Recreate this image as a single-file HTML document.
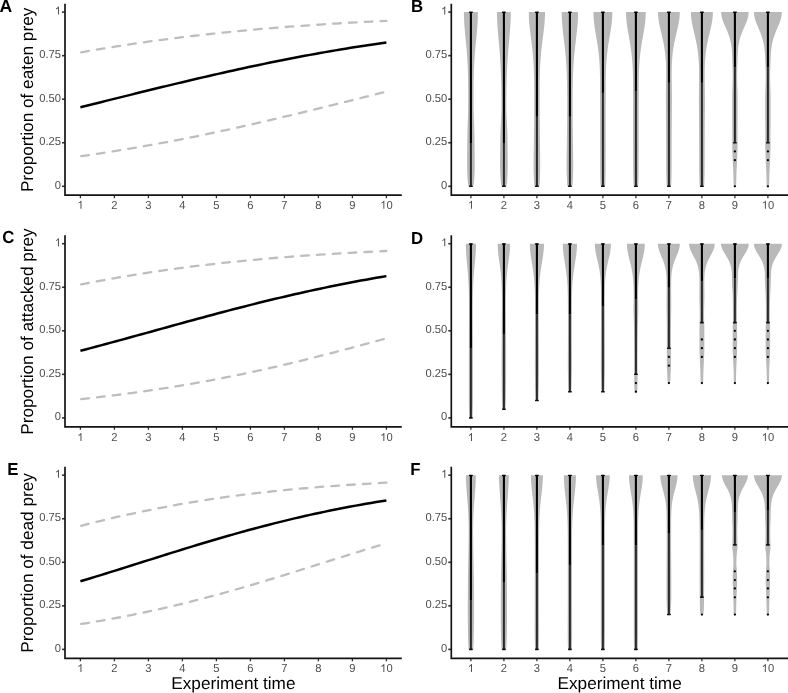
<!DOCTYPE html>
<html><head><meta charset="utf-8"><style>
html,body{margin:0;padding:0;background:#fff;overflow:hidden;width:788px;height:693px;}
svg{filter:grayscale(1);}
text{text-rendering:geometricPrecision;}
svg{display:block;}
.tk{font-family:"Liberation Sans",sans-serif;font-size:11.2px;fill:#4d4d4d;}
.ttl{font-family:"Liberation Sans",sans-serif;font-size:17.2px;fill:#000;}
.lt{font-family:"Liberation Sans",sans-serif;font-size:16.8px;font-weight:bold;fill:#000;}
</style></head><body>
<svg width="788" height="693" viewBox="0 0 788 693">
<rect width="788" height="693" fill="#fff"/>
<line x1="62.00" y1="186.30" x2="65.00" y2="186.30" stroke="#333333" stroke-width="1.6"/>
<text transform="translate(54.77,188.80) scale(1,1.040)" class="tk">0</text>
<line x1="62.00" y1="142.75" x2="65.00" y2="142.75" stroke="#333333" stroke-width="1.6"/>
<text transform="translate(39.20,145.25) scale(1,1.040)" class="tk">0.25</text>
<line x1="62.00" y1="99.20" x2="65.00" y2="99.20" stroke="#333333" stroke-width="1.6"/>
<text transform="translate(39.20,101.70) scale(1,1.040)" class="tk">0.50</text>
<line x1="62.00" y1="55.65" x2="65.00" y2="55.65" stroke="#333333" stroke-width="1.6"/>
<text transform="translate(39.20,58.15) scale(1,1.040)" class="tk">0.75</text>
<line x1="62.00" y1="12.10" x2="65.00" y2="12.10" stroke="#333333" stroke-width="1.6"/>
<text transform="translate(54.77,14.60) scale(1,1.040)" class="tk"> </text><path transform="translate(54.77,14.60) scale(0.00547,-0.00547)" d="M763,0L583,0L583,1147Q518,1085 412,1023Q306,961 221,930L221,1104Q374,1176 488,1278Q602,1380 649,1476L763,1476Z" fill="#4d4d4d"/>
<line x1="80.40" y1="195.21" x2="80.40" y2="198.21" stroke="#333333" stroke-width="1.3"/>
<text transform="translate(77.29,208.71) scale(1,1.040)" class="tk"> </text><path transform="translate(77.29,208.71) scale(0.00547,-0.00547)" d="M763,0L583,0L583,1147Q518,1085 412,1023Q306,961 221,930L221,1104Q374,1176 488,1278Q602,1380 649,1476L763,1476Z" fill="#4d4d4d"/>
<line x1="114.40" y1="195.21" x2="114.40" y2="198.21" stroke="#333333" stroke-width="1.3"/>
<text transform="translate(111.29,208.71) scale(1,1.040)" class="tk">2</text>
<line x1="148.40" y1="195.21" x2="148.40" y2="198.21" stroke="#333333" stroke-width="1.3"/>
<text transform="translate(145.29,208.71) scale(1,1.040)" class="tk">3</text>
<line x1="182.40" y1="195.21" x2="182.40" y2="198.21" stroke="#333333" stroke-width="1.3"/>
<text transform="translate(179.29,208.71) scale(1,1.040)" class="tk">4</text>
<line x1="216.40" y1="195.21" x2="216.40" y2="198.21" stroke="#333333" stroke-width="1.3"/>
<text transform="translate(213.29,208.71) scale(1,1.040)" class="tk">5</text>
<line x1="250.40" y1="195.21" x2="250.40" y2="198.21" stroke="#333333" stroke-width="1.3"/>
<text transform="translate(247.29,208.71) scale(1,1.040)" class="tk">6</text>
<line x1="284.40" y1="195.21" x2="284.40" y2="198.21" stroke="#333333" stroke-width="1.3"/>
<text transform="translate(281.29,208.71) scale(1,1.040)" class="tk">7</text>
<line x1="318.40" y1="195.21" x2="318.40" y2="198.21" stroke="#333333" stroke-width="1.3"/>
<text transform="translate(315.29,208.71) scale(1,1.040)" class="tk">8</text>
<line x1="352.40" y1="195.21" x2="352.40" y2="198.21" stroke="#333333" stroke-width="1.3"/>
<text transform="translate(349.29,208.71) scale(1,1.040)" class="tk">9</text>
<line x1="386.40" y1="195.21" x2="386.40" y2="198.21" stroke="#333333" stroke-width="1.3"/>
<text transform="translate(380.17,208.71) scale(1,1.040)" class="tk"> 0</text><path transform="translate(380.17,208.71) scale(0.00547,-0.00547)" d="M763,0L583,0L583,1147Q518,1085 412,1023Q306,961 221,930L221,1104Q374,1176 488,1278Q602,1380 649,1476L763,1476Z" fill="#4d4d4d"/>
<path d="M65.00,3.69 L65.00,195.21 L401.80,195.21" fill="none" stroke="#141414" stroke-width="1.7" stroke-linejoin="miter" stroke-linecap="butt"/>
<path d="M80.40 52.41 85.50 51.51 90.60 50.63 95.70 49.77 100.80 48.92 105.90 48.08 111.00 47.26 116.10 46.45 121.20 45.66 126.30 44.88 131.40 44.11 136.50 43.36 141.60 42.63 146.70 41.90 151.80 41.19 156.90 40.49 162.00 39.81 167.10 39.14 172.20 38.48 177.30 37.84 182.40 37.21 187.50 36.59 192.60 35.99 197.70 35.40 202.80 34.82 207.90 34.25 213.00 33.69 218.10 33.15 223.20 32.62 228.30 32.10 233.40 31.59 238.50 31.09 243.60 30.61 248.70 30.13 253.80 29.67 258.90 29.22 264.00 28.77 269.10 28.34 274.20 27.92 279.30 27.50 284.40 27.10 289.50 26.71 294.60 26.32 299.70 25.95 304.80 25.58 309.90 25.23 315.00 24.88 320.10 24.54 325.20 24.21 330.30 23.89 335.40 23.57 340.50 23.26 345.60 22.96 350.70 22.67 355.80 22.39 360.90 22.11 366.00 21.84 371.10 21.58 376.20 21.32 381.30 21.07 386.40 20.82" fill="none" stroke="#bebebe" stroke-width="2.3" stroke-dasharray="7.7 8.15" stroke-dashoffset="15.0" stroke-linecap="round"/>
<path d="M80.40 156.29 85.50 155.56 90.60 154.82 95.70 154.06 100.80 153.29 105.90 152.51 111.00 151.71 116.10 150.90 121.20 150.07 126.30 149.23 131.40 148.38 136.50 147.51 141.60 146.62 146.70 145.73 151.80 144.82 156.90 143.89 162.00 142.95 167.10 142.00 172.20 141.04 177.30 140.06 182.40 139.06 187.50 138.06 192.60 137.04 197.70 136.01 202.80 134.96 207.90 133.90 213.00 132.83 218.10 131.75 223.20 130.66 228.30 129.55 233.40 128.44 238.50 127.31 243.60 126.17 248.70 125.02 253.80 123.86 258.90 122.70 264.00 121.52 269.10 120.33 274.20 119.14 279.30 117.94 284.40 116.73 289.50 115.51 294.60 114.29 299.70 113.06 304.80 111.82 309.90 110.58 315.00 109.34 320.10 108.09 325.20 106.83 330.30 105.58 335.40 104.32 340.50 103.06 345.60 101.79 350.70 100.53 355.80 99.27 360.90 98.00 366.00 96.74 371.10 95.47 376.20 94.21 381.30 92.95 386.40 91.70" fill="none" stroke="#bebebe" stroke-width="2.3" stroke-dasharray="7.7 8.15" stroke-dashoffset="15.0" stroke-linecap="round"/>
<path d="M80.40 107.21 85.50 105.95 90.60 104.70 95.70 103.44 100.80 102.17 105.90 100.91 111.00 99.64 116.10 98.38 121.20 97.12 126.30 95.85 131.40 94.59 136.50 93.33 141.60 92.07 146.70 90.82 151.80 89.57 156.90 88.32 162.00 87.08 167.10 85.84 172.20 84.61 177.30 83.38 182.40 82.16 187.50 80.95 192.60 79.75 197.70 78.55 202.80 77.36 207.90 76.18 213.00 75.01 218.10 73.85 223.20 72.69 228.30 71.55 233.40 70.42 238.50 69.30 243.60 68.19 248.70 67.09 253.80 66.00 258.90 64.93 264.00 63.87 269.10 62.82 274.20 61.78 279.30 60.75 284.40 59.74 289.50 58.74 294.60 57.76 299.70 56.79 304.80 55.83 309.90 54.89 315.00 53.95 320.10 53.04 325.20 52.14 330.30 51.25 335.40 50.37 340.50 49.51 345.60 48.67 350.70 47.84 355.80 47.02 360.90 46.21 366.00 45.43 371.10 44.65 376.20 43.89 381.30 43.14 386.40 42.41" fill="none" stroke="#000" stroke-width="2.5" stroke-linecap="butt"/>
<text class="ttl" transform="translate(33.2,99.90) rotate(-90)" text-anchor="middle">Proportion of eaten prey</text>
<line x1="62.00" y1="417.90" x2="65.00" y2="417.90" stroke="#333333" stroke-width="1.6"/>
<text transform="translate(54.77,420.40) scale(1,1.040)" class="tk">0</text>
<line x1="62.00" y1="374.35" x2="65.00" y2="374.35" stroke="#333333" stroke-width="1.6"/>
<text transform="translate(39.20,376.85) scale(1,1.040)" class="tk">0.25</text>
<line x1="62.00" y1="330.80" x2="65.00" y2="330.80" stroke="#333333" stroke-width="1.6"/>
<text transform="translate(39.20,333.30) scale(1,1.040)" class="tk">0.50</text>
<line x1="62.00" y1="287.25" x2="65.00" y2="287.25" stroke="#333333" stroke-width="1.6"/>
<text transform="translate(39.20,289.75) scale(1,1.040)" class="tk">0.75</text>
<line x1="62.00" y1="243.70" x2="65.00" y2="243.70" stroke="#333333" stroke-width="1.6"/>
<text transform="translate(54.77,246.20) scale(1,1.040)" class="tk"> </text><path transform="translate(54.77,246.20) scale(0.00547,-0.00547)" d="M763,0L583,0L583,1147Q518,1085 412,1023Q306,961 221,930L221,1104Q374,1176 488,1278Q602,1380 649,1476L763,1476Z" fill="#4d4d4d"/>
<line x1="80.40" y1="426.81" x2="80.40" y2="429.81" stroke="#333333" stroke-width="1.3"/>
<text transform="translate(77.29,441.11) scale(1,1.040)" class="tk"> </text><path transform="translate(77.29,441.11) scale(0.00547,-0.00547)" d="M763,0L583,0L583,1147Q518,1085 412,1023Q306,961 221,930L221,1104Q374,1176 488,1278Q602,1380 649,1476L763,1476Z" fill="#4d4d4d"/>
<line x1="114.40" y1="426.81" x2="114.40" y2="429.81" stroke="#333333" stroke-width="1.3"/>
<text transform="translate(111.29,441.11) scale(1,1.040)" class="tk">2</text>
<line x1="148.40" y1="426.81" x2="148.40" y2="429.81" stroke="#333333" stroke-width="1.3"/>
<text transform="translate(145.29,441.11) scale(1,1.040)" class="tk">3</text>
<line x1="182.40" y1="426.81" x2="182.40" y2="429.81" stroke="#333333" stroke-width="1.3"/>
<text transform="translate(179.29,441.11) scale(1,1.040)" class="tk">4</text>
<line x1="216.40" y1="426.81" x2="216.40" y2="429.81" stroke="#333333" stroke-width="1.3"/>
<text transform="translate(213.29,441.11) scale(1,1.040)" class="tk">5</text>
<line x1="250.40" y1="426.81" x2="250.40" y2="429.81" stroke="#333333" stroke-width="1.3"/>
<text transform="translate(247.29,441.11) scale(1,1.040)" class="tk">6</text>
<line x1="284.40" y1="426.81" x2="284.40" y2="429.81" stroke="#333333" stroke-width="1.3"/>
<text transform="translate(281.29,441.11) scale(1,1.040)" class="tk">7</text>
<line x1="318.40" y1="426.81" x2="318.40" y2="429.81" stroke="#333333" stroke-width="1.3"/>
<text transform="translate(315.29,441.11) scale(1,1.040)" class="tk">8</text>
<line x1="352.40" y1="426.81" x2="352.40" y2="429.81" stroke="#333333" stroke-width="1.3"/>
<text transform="translate(349.29,441.11) scale(1,1.040)" class="tk">9</text>
<line x1="386.40" y1="426.81" x2="386.40" y2="429.81" stroke="#333333" stroke-width="1.3"/>
<text transform="translate(380.17,441.11) scale(1,1.040)" class="tk"> 0</text><path transform="translate(380.17,441.11) scale(0.00547,-0.00547)" d="M763,0L583,0L583,1147Q518,1085 412,1023Q306,961 221,930L221,1104Q374,1176 488,1278Q602,1380 649,1476L763,1476Z" fill="#4d4d4d"/>
<path d="M65.00,235.29 L65.00,426.81 L401.80,426.81" fill="none" stroke="#141414" stroke-width="1.7" stroke-linejoin="miter" stroke-linecap="butt"/>
<path d="M80.40 284.58 85.50 283.58 90.60 282.59 95.70 281.62 100.80 280.67 105.90 279.73 111.00 278.82 116.10 277.92 121.20 277.03 126.30 276.17 131.40 275.32 136.50 274.49 141.60 273.68 146.70 272.88 151.80 272.11 156.90 271.34 162.00 270.60 167.10 269.87 172.20 269.16 177.30 268.46 182.40 267.78 187.50 267.12 192.60 266.47 197.70 265.83 202.80 265.22 207.90 264.61 213.00 264.02 218.10 263.45 223.20 262.89 228.30 262.34 233.40 261.81 238.50 261.29 243.60 260.78 248.70 260.29 253.80 259.81 258.90 259.34 264.00 258.89 269.10 258.45 274.20 258.01 279.30 257.59 284.40 257.19 289.50 256.79 294.60 256.40 299.70 256.02 304.80 255.66 309.90 255.30 315.00 254.96 320.10 254.62 325.20 254.29 330.30 253.98 335.40 253.67 340.50 253.37 345.60 253.08 350.70 252.79 355.80 252.52 360.90 252.25 366.00 251.99 371.10 251.74 376.20 251.49 381.30 251.26 386.40 251.02" fill="none" stroke="#bebebe" stroke-width="2.3" stroke-dasharray="7.7 8.15" stroke-dashoffset="15.0" stroke-linecap="round"/>
<path d="M80.40 399.20 85.50 398.65 90.60 398.09 95.70 397.51 100.80 396.92 105.90 396.32 111.00 395.70 116.10 395.06 121.20 394.41 126.30 393.74 131.40 393.06 136.50 392.36 141.60 391.65 146.70 390.92 151.80 390.17 156.90 389.41 162.00 388.63 167.10 387.83 172.20 387.02 177.30 386.18 182.40 385.33 187.50 384.47 192.60 383.58 197.70 382.68 202.80 381.76 207.90 380.83 213.00 379.87 218.10 378.90 223.20 377.91 228.30 376.90 233.40 375.88 238.50 374.84 243.60 373.78 248.70 372.70 253.80 371.61 258.90 370.50 264.00 369.37 269.10 368.23 274.20 367.07 279.30 365.90 284.40 364.71 289.50 363.51 294.60 362.29 299.70 361.05 304.80 359.80 309.90 358.54 315.00 357.27 320.10 355.98 325.20 354.68 330.30 353.37 335.40 352.05 340.50 350.72 345.60 349.38 350.70 348.02 355.80 346.66 360.90 345.30 366.00 343.92 371.10 342.54 376.20 341.15 381.30 339.76 386.40 338.36" fill="none" stroke="#bebebe" stroke-width="2.3" stroke-dasharray="7.7 8.15" stroke-dashoffset="15.0" stroke-linecap="round"/>
<path d="M80.40 350.82 85.50 349.48 90.60 348.13 95.70 346.77 100.80 345.40 105.90 344.02 111.00 342.64 116.10 341.25 121.20 339.86 126.30 338.46 131.40 337.06 136.50 335.66 141.60 334.25 146.70 332.84 151.80 331.43 156.90 330.02 162.00 328.61 167.10 327.20 172.20 325.79 177.30 324.38 182.40 322.98 187.50 321.58 192.60 320.19 197.70 318.80 202.80 317.42 207.90 316.05 213.00 314.68 218.10 313.32 223.20 311.97 228.30 310.63 233.40 309.30 238.50 307.98 243.60 306.68 248.70 305.38 253.80 304.09 258.90 302.82 264.00 301.56 269.10 300.32 274.20 299.09 279.30 297.87 284.40 296.67 289.50 295.48 294.60 294.31 299.70 293.16 304.80 292.02 309.90 290.89 315.00 289.79 320.10 288.70 325.20 287.62 330.30 286.57 335.40 285.53 340.50 284.51 345.60 283.50 350.70 282.52 355.80 281.55 360.90 280.60 366.00 279.67 371.10 278.75 376.20 277.85 381.30 276.97 386.40 276.11" fill="none" stroke="#000" stroke-width="2.5" stroke-linecap="butt"/>
<text class="ttl" transform="translate(33.2,331.50) rotate(-90)" text-anchor="middle">Proportion of attacked prey</text>
<line x1="62.00" y1="649.40" x2="65.00" y2="649.40" stroke="#333333" stroke-width="1.6"/>
<text transform="translate(54.77,651.90) scale(1,1.040)" class="tk">0</text>
<line x1="62.00" y1="605.85" x2="65.00" y2="605.85" stroke="#333333" stroke-width="1.6"/>
<text transform="translate(39.20,608.35) scale(1,1.040)" class="tk">0.25</text>
<line x1="62.00" y1="562.30" x2="65.00" y2="562.30" stroke="#333333" stroke-width="1.6"/>
<text transform="translate(39.20,564.80) scale(1,1.040)" class="tk">0.50</text>
<line x1="62.00" y1="518.75" x2="65.00" y2="518.75" stroke="#333333" stroke-width="1.6"/>
<text transform="translate(39.20,521.25) scale(1,1.040)" class="tk">0.75</text>
<line x1="62.00" y1="475.20" x2="65.00" y2="475.20" stroke="#333333" stroke-width="1.6"/>
<text transform="translate(54.77,477.70) scale(1,1.040)" class="tk"> </text><path transform="translate(54.77,477.70) scale(0.00547,-0.00547)" d="M763,0L583,0L583,1147Q518,1085 412,1023Q306,961 221,930L221,1104Q374,1176 488,1278Q602,1380 649,1476L763,1476Z" fill="#4d4d4d"/>
<line x1="80.40" y1="658.31" x2="80.40" y2="661.31" stroke="#333333" stroke-width="1.3"/>
<text transform="translate(77.29,672.11) scale(1,1.040)" class="tk"> </text><path transform="translate(77.29,672.11) scale(0.00547,-0.00547)" d="M763,0L583,0L583,1147Q518,1085 412,1023Q306,961 221,930L221,1104Q374,1176 488,1278Q602,1380 649,1476L763,1476Z" fill="#4d4d4d"/>
<line x1="114.40" y1="658.31" x2="114.40" y2="661.31" stroke="#333333" stroke-width="1.3"/>
<text transform="translate(111.29,672.11) scale(1,1.040)" class="tk">2</text>
<line x1="148.40" y1="658.31" x2="148.40" y2="661.31" stroke="#333333" stroke-width="1.3"/>
<text transform="translate(145.29,672.11) scale(1,1.040)" class="tk">3</text>
<line x1="182.40" y1="658.31" x2="182.40" y2="661.31" stroke="#333333" stroke-width="1.3"/>
<text transform="translate(179.29,672.11) scale(1,1.040)" class="tk">4</text>
<line x1="216.40" y1="658.31" x2="216.40" y2="661.31" stroke="#333333" stroke-width="1.3"/>
<text transform="translate(213.29,672.11) scale(1,1.040)" class="tk">5</text>
<line x1="250.40" y1="658.31" x2="250.40" y2="661.31" stroke="#333333" stroke-width="1.3"/>
<text transform="translate(247.29,672.11) scale(1,1.040)" class="tk">6</text>
<line x1="284.40" y1="658.31" x2="284.40" y2="661.31" stroke="#333333" stroke-width="1.3"/>
<text transform="translate(281.29,672.11) scale(1,1.040)" class="tk">7</text>
<line x1="318.40" y1="658.31" x2="318.40" y2="661.31" stroke="#333333" stroke-width="1.3"/>
<text transform="translate(315.29,672.11) scale(1,1.040)" class="tk">8</text>
<line x1="352.40" y1="658.31" x2="352.40" y2="661.31" stroke="#333333" stroke-width="1.3"/>
<text transform="translate(349.29,672.11) scale(1,1.040)" class="tk">9</text>
<line x1="386.40" y1="658.31" x2="386.40" y2="661.31" stroke="#333333" stroke-width="1.3"/>
<text transform="translate(380.17,672.11) scale(1,1.040)" class="tk"> 0</text><path transform="translate(380.17,672.11) scale(0.00547,-0.00547)" d="M763,0L583,0L583,1147Q518,1085 412,1023Q306,961 221,930L221,1104Q374,1176 488,1278Q602,1380 649,1476L763,1476Z" fill="#4d4d4d"/>
<path d="M65.00,466.79 L65.00,658.31 L401.80,658.31" fill="none" stroke="#141414" stroke-width="1.7" stroke-linejoin="miter" stroke-linecap="butt"/>
<path d="M80.40 526.04 85.50 524.72 90.60 523.42 95.70 522.14 100.80 520.88 105.90 519.65 111.00 518.43 116.10 517.24 121.20 516.07 126.30 514.93 131.40 513.81 136.50 512.71 141.60 511.63 146.70 510.58 151.80 509.54 156.90 508.54 162.00 507.55 167.10 506.59 172.20 505.65 177.30 504.73 182.40 503.83 187.50 502.96 192.60 502.11 197.70 501.28 202.80 500.47 207.90 499.68 213.00 498.91 218.10 498.17 223.20 497.44 228.30 496.73 233.40 496.04 238.50 495.37 243.60 494.72 248.70 494.09 253.80 493.48 258.90 492.88 264.00 492.30 269.10 491.74 274.20 491.20 279.30 490.67 284.40 490.15 289.50 489.66 294.60 489.17 299.70 488.71 304.80 488.25 309.90 487.81 315.00 487.39 320.10 486.97 325.20 486.57 330.30 486.19 335.40 485.81 340.50 485.45 345.60 485.10 350.70 484.76 355.80 484.43 360.90 484.11 366.00 483.81 371.10 483.51 376.20 483.22 381.30 482.94 386.40 482.67" fill="none" stroke="#bebebe" stroke-width="2.3" stroke-dasharray="7.7 8.15" stroke-dashoffset="15.0" stroke-linecap="round"/>
<path d="M80.40 624.12 85.50 623.31 90.60 622.48 95.70 621.63 100.80 620.76 105.90 619.86 111.00 618.94 116.10 618.00 121.20 617.04 126.30 616.05 131.40 615.04 136.50 614.01 141.60 612.96 146.70 611.88 151.80 610.78 156.90 609.66 162.00 608.51 167.10 607.35 172.20 606.15 177.30 604.94 182.40 603.71 187.50 602.45 192.60 601.17 197.70 599.87 202.80 598.55 207.90 597.21 213.00 595.85 218.10 594.46 223.20 593.06 228.30 591.65 233.40 590.21 238.50 588.76 243.60 587.29 248.70 585.80 253.80 584.30 258.90 582.79 264.00 581.26 269.10 579.72 274.20 578.17 279.30 576.60 284.40 575.03 289.50 573.45 294.60 571.87 299.70 570.27 304.80 568.67 309.90 567.07 315.00 565.46 320.10 563.85 325.20 562.24 330.30 560.63 335.40 559.02 340.50 557.42 345.60 555.81 350.70 554.22 355.80 552.62 360.90 551.04 366.00 549.46 371.10 547.88 376.20 546.32 381.30 544.77 386.40 543.23" fill="none" stroke="#bebebe" stroke-width="2.3" stroke-dasharray="7.7 8.15" stroke-dashoffset="15.0" stroke-linecap="round"/>
<path d="M80.40 581.30 85.50 579.76 90.60 578.21 95.70 576.65 100.80 575.08 105.90 573.50 111.00 571.91 116.10 570.32 121.20 568.72 126.30 567.12 131.40 565.51 136.50 563.90 141.60 562.29 146.70 560.68 151.80 559.07 156.90 557.47 162.00 555.86 167.10 554.26 172.20 552.67 177.30 551.08 182.40 549.50 187.50 547.93 192.60 546.37 197.70 544.82 202.80 543.28 207.90 541.75 213.00 540.24 218.10 538.74 223.20 537.25 228.30 535.78 233.40 534.33 238.50 532.90 243.60 531.48 248.70 530.08 253.80 528.70 258.90 527.34 264.00 526.00 269.10 524.68 274.20 523.38 279.30 522.10 284.40 520.84 289.50 519.61 294.60 518.40 299.70 517.21 304.80 516.04 309.90 514.90 315.00 513.77 320.10 512.67 325.20 511.60 330.30 510.54 335.40 509.51 340.50 508.51 345.60 507.52 350.70 506.56 355.80 505.62 360.90 504.70 366.00 503.81 371.10 502.94 376.20 502.08 381.30 501.25 386.40 500.45" fill="none" stroke="#000" stroke-width="2.5" stroke-linecap="butt"/>
<text class="ttl" transform="translate(33.2,563.00) rotate(-90)" text-anchor="middle">Proportion of dead prey</text>
<line x1="448.30" y1="186.30" x2="451.30" y2="186.30" stroke="#333333" stroke-width="1.6"/>
<text transform="translate(441.07,188.80) scale(1,1.040)" class="tk">0</text>
<line x1="448.30" y1="142.75" x2="451.30" y2="142.75" stroke="#333333" stroke-width="1.6"/>
<text transform="translate(425.50,145.25) scale(1,1.040)" class="tk">0.25</text>
<line x1="448.30" y1="99.20" x2="451.30" y2="99.20" stroke="#333333" stroke-width="1.6"/>
<text transform="translate(425.50,101.70) scale(1,1.040)" class="tk">0.50</text>
<line x1="448.30" y1="55.65" x2="451.30" y2="55.65" stroke="#333333" stroke-width="1.6"/>
<text transform="translate(425.50,58.15) scale(1,1.040)" class="tk">0.75</text>
<line x1="448.30" y1="12.10" x2="451.30" y2="12.10" stroke="#333333" stroke-width="1.6"/>
<text transform="translate(441.07,14.60) scale(1,1.040)" class="tk"> </text><path transform="translate(441.07,14.60) scale(0.00547,-0.00547)" d="M763,0L583,0L583,1147Q518,1085 412,1023Q306,961 221,930L221,1104Q374,1176 488,1278Q602,1380 649,1476L763,1476Z" fill="#4d4d4d"/>
<line x1="470.90" y1="195.21" x2="470.90" y2="198.21" stroke="#333333" stroke-width="1.3"/>
<text transform="translate(467.79,208.71) scale(1,1.040)" class="tk"> </text><path transform="translate(467.79,208.71) scale(0.00547,-0.00547)" d="M763,0L583,0L583,1147Q518,1085 412,1023Q306,961 221,930L221,1104Q374,1176 488,1278Q602,1380 649,1476L763,1476Z" fill="#4d4d4d"/>
<line x1="503.90" y1="195.21" x2="503.90" y2="198.21" stroke="#333333" stroke-width="1.3"/>
<text transform="translate(500.79,208.71) scale(1,1.040)" class="tk">2</text>
<line x1="536.90" y1="195.21" x2="536.90" y2="198.21" stroke="#333333" stroke-width="1.3"/>
<text transform="translate(533.79,208.71) scale(1,1.040)" class="tk">3</text>
<line x1="569.90" y1="195.21" x2="569.90" y2="198.21" stroke="#333333" stroke-width="1.3"/>
<text transform="translate(566.79,208.71) scale(1,1.040)" class="tk">4</text>
<line x1="602.90" y1="195.21" x2="602.90" y2="198.21" stroke="#333333" stroke-width="1.3"/>
<text transform="translate(599.79,208.71) scale(1,1.040)" class="tk">5</text>
<line x1="635.90" y1="195.21" x2="635.90" y2="198.21" stroke="#333333" stroke-width="1.3"/>
<text transform="translate(632.79,208.71) scale(1,1.040)" class="tk">6</text>
<line x1="668.90" y1="195.21" x2="668.90" y2="198.21" stroke="#333333" stroke-width="1.3"/>
<text transform="translate(665.79,208.71) scale(1,1.040)" class="tk">7</text>
<line x1="701.90" y1="195.21" x2="701.90" y2="198.21" stroke="#333333" stroke-width="1.3"/>
<text transform="translate(698.79,208.71) scale(1,1.040)" class="tk">8</text>
<line x1="734.90" y1="195.21" x2="734.90" y2="198.21" stroke="#333333" stroke-width="1.3"/>
<text transform="translate(731.79,208.71) scale(1,1.040)" class="tk">9</text>
<line x1="767.90" y1="195.21" x2="767.90" y2="198.21" stroke="#333333" stroke-width="1.3"/>
<text transform="translate(761.67,208.71) scale(1,1.040)" class="tk"> 0</text><path transform="translate(761.67,208.71) scale(0.00547,-0.00547)" d="M763,0L583,0L583,1147Q518,1085 412,1023Q306,961 221,930L221,1104Q374,1176 488,1278Q602,1380 649,1476L763,1476Z" fill="#4d4d4d"/>
<path d="M451.30,3.69 L451.30,195.21 L788.00,195.21" fill="none" stroke="#141414" stroke-width="1.7" stroke-linejoin="miter" stroke-linecap="butt"/>
<path d="M477.90 12.10 477.90 13.26 477.88 14.42 477.86 15.58 477.84 16.75 477.80 17.91 477.76 19.07 477.71 20.23 477.65 21.39 477.58 22.55 477.51 23.71 477.43 24.87 477.35 26.04 477.26 27.20 477.17 28.36 477.07 29.52 476.97 30.68 476.87 31.84 476.76 33.00 476.65 34.17 476.54 35.33 476.43 36.49 476.31 37.65 476.20 38.81 476.08 39.97 475.97 41.13 475.85 42.29 475.74 43.46 475.63 44.62 475.52 45.78 475.41 46.94 475.31 48.10 475.21 49.26 475.11 50.42 475.01 51.59 474.92 52.75 474.83 53.91 474.74 55.07 474.66 56.23 474.58 57.39 474.50 58.55 474.43 59.71 474.36 60.88 474.30 62.04 474.23 63.20 474.18 64.36 474.12 65.52 474.07 66.68 474.02 67.84 473.98 69.01 473.94 70.17 473.90 71.33 473.87 72.49 473.83 73.65 473.80 74.81 473.78 75.97 473.75 77.13 473.73 78.30 473.71 79.46 473.69 80.62 473.68 81.78 473.65 83.91 473.63 86.05 473.62 88.18 473.61 90.31 473.60 92.45 473.60 94.58 473.60 96.71 473.60 98.84 473.60 100.98 473.61 103.11 473.62 105.24 473.64 107.38 473.67 109.51 473.71 111.64 473.77 113.78 473.83 115.91 473.89 118.04 473.96 120.18 474.04 122.31 474.11 124.44 474.18 126.57 474.25 128.71 474.32 130.84 474.38 132.97 474.43 135.11 474.47 137.24 474.50 139.37 474.53 141.51 474.55 143.64 474.57 145.77 474.60 147.90 474.62 150.04 474.64 152.17 474.65 154.30 474.67 156.44 474.68 158.57 474.69 160.70 474.70 162.84 474.70 164.97 474.69 167.10 474.66 169.24 474.60 171.37 474.52 173.50 474.42 175.63 474.31 177.77 474.18 179.90 474.01 182.03 473.67 184.17 473.30 186.30 468.50 186.30 468.13 184.17 467.79 182.03 467.62 179.90 467.49 177.77 467.38 175.63 467.28 173.50 467.20 171.37 467.14 169.24 467.11 167.10 467.10 164.97 467.10 162.84 467.11 160.70 467.12 158.57 467.13 156.44 467.15 154.30 467.16 152.17 467.18 150.04 467.20 147.90 467.23 145.77 467.25 143.64 467.27 141.51 467.30 139.37 467.33 137.24 467.37 135.11 467.42 132.97 467.48 130.84 467.55 128.71 467.62 126.57 467.69 124.44 467.76 122.31 467.84 120.18 467.91 118.04 467.97 115.91 468.03 113.78 468.09 111.64 468.13 109.51 468.16 107.38 468.18 105.24 468.19 103.11 468.20 100.98 468.20 98.84 468.20 96.71 468.20 94.58 468.20 92.45 468.19 90.31 468.18 88.18 468.17 86.05 468.15 83.91 468.12 81.78 468.11 80.62 468.09 79.46 468.07 78.30 468.05 77.13 468.02 75.97 468.00 74.81 467.97 73.65 467.93 72.49 467.90 71.33 467.86 70.17 467.82 69.01 467.78 67.84 467.73 66.68 467.68 65.52 467.62 64.36 467.57 63.20 467.50 62.04 467.44 60.88 467.37 59.71 467.30 58.55 467.22 57.39 467.14 56.23 467.06 55.07 466.97 53.91 466.88 52.75 466.79 51.59 466.69 50.42 466.59 49.26 466.49 48.10 466.39 46.94 466.28 45.78 466.17 44.62 466.06 43.46 465.95 42.29 465.83 41.13 465.72 39.97 465.60 38.81 465.49 37.65 465.37 36.49 465.26 35.33 465.15 34.17 465.04 33.00 464.93 31.84 464.83 30.68 464.73 29.52 464.63 28.36 464.54 27.20 464.45 26.04 464.37 24.87 464.29 23.71 464.22 22.55 464.15 21.39 464.09 20.23 464.04 19.07 464.00 17.91 463.96 16.75 463.94 15.58 463.92 14.42 463.90 13.26 463.90 12.10Z" fill="#b9b9b9"/>
<line x1="470.90" y1="143.62" x2="470.90" y2="186.30" stroke="#2a2a2a" stroke-width="2.0"/>
<rect x="469.00" y="185.50" width="3.8" height="1.6" rx="0.6" fill="#111"/>
<rect x="469.85" y="12.10" width="2.1" height="131.52" fill="#000"/>
<rect x="468.90" y="11.55" width="4.0" height="1.5" rx="0.7" fill="#000"/>
<path d="M510.80 12.10 510.80 13.26 510.79 14.42 510.77 15.58 510.74 16.75 510.71 17.91 510.68 19.07 510.63 20.23 510.58 21.39 510.52 22.55 510.46 23.71 510.40 24.87 510.32 26.04 510.25 27.20 510.16 28.36 510.08 29.52 509.99 30.68 509.90 31.84 509.80 33.00 509.70 34.17 509.60 35.33 509.50 36.49 509.40 37.65 509.29 38.81 509.19 39.97 509.08 41.13 508.98 42.29 508.87 43.46 508.77 44.62 508.66 45.78 508.56 46.94 508.46 48.10 508.36 49.26 508.27 50.42 508.17 51.59 508.08 52.75 507.99 53.91 507.91 55.07 507.82 56.23 507.74 57.39 507.66 58.55 507.59 59.71 507.52 60.88 507.45 62.04 507.39 63.20 507.32 64.36 507.26 65.52 507.21 66.68 507.15 67.84 507.10 69.01 507.05 70.17 507.00 71.33 506.95 72.49 506.91 73.65 506.86 74.81 506.82 75.97 506.78 77.13 506.75 78.30 506.71 79.46 506.68 80.62 506.65 81.78 506.59 83.91 506.54 86.05 506.50 88.18 506.46 90.31 506.43 92.45 506.40 94.58 506.38 96.71 506.36 98.84 506.34 100.98 506.33 103.11 506.32 105.24 506.34 107.38 506.38 109.51 506.43 111.64 506.50 113.78 506.58 115.91 506.67 118.04 506.77 120.18 506.87 122.31 506.98 124.44 507.08 126.57 507.17 128.71 507.27 130.84 507.35 132.97 507.41 135.11 507.47 137.24 507.50 139.37 507.53 141.51 507.55 143.64 507.58 145.77 507.60 147.90 507.62 150.04 507.64 152.17 507.66 154.30 507.67 156.44 507.68 158.57 507.69 160.70 507.70 162.84 507.70 164.97 507.69 167.10 507.66 169.24 507.60 171.37 507.52 173.50 507.42 175.63 507.31 177.77 507.18 179.90 507.01 182.03 506.67 184.17 506.30 186.30 501.50 186.30 501.13 184.17 500.79 182.03 500.62 179.90 500.49 177.77 500.38 175.63 500.28 173.50 500.20 171.37 500.14 169.24 500.11 167.10 500.10 164.97 500.10 162.84 500.11 160.70 500.12 158.57 500.13 156.44 500.14 154.30 500.16 152.17 500.18 150.04 500.20 147.90 500.22 145.77 500.25 143.64 500.27 141.51 500.30 139.37 500.33 137.24 500.39 135.11 500.45 132.97 500.53 130.84 500.63 128.71 500.72 126.57 500.82 124.44 500.93 122.31 501.03 120.18 501.13 118.04 501.22 115.91 501.30 113.78 501.37 111.64 501.42 109.51 501.46 107.38 501.48 105.24 501.47 103.11 501.46 100.98 501.44 98.84 501.42 96.71 501.40 94.58 501.37 92.45 501.34 90.31 501.30 88.18 501.26 86.05 501.21 83.91 501.15 81.78 501.12 80.62 501.09 79.46 501.05 78.30 501.02 77.13 500.98 75.97 500.94 74.81 500.89 73.65 500.85 72.49 500.80 71.33 500.75 70.17 500.70 69.01 500.65 67.84 500.59 66.68 500.54 65.52 500.48 64.36 500.41 63.20 500.35 62.04 500.28 60.88 500.21 59.71 500.14 58.55 500.06 57.39 499.98 56.23 499.89 55.07 499.81 53.91 499.72 52.75 499.63 51.59 499.53 50.42 499.44 49.26 499.34 48.10 499.24 46.94 499.14 45.78 499.03 44.62 498.93 43.46 498.82 42.29 498.72 41.13 498.61 39.97 498.51 38.81 498.40 37.65 498.30 36.49 498.20 35.33 498.10 34.17 498.00 33.00 497.90 31.84 497.81 30.68 497.72 29.52 497.64 28.36 497.55 27.20 497.48 26.04 497.40 24.87 497.34 23.71 497.28 22.55 497.22 21.39 497.17 20.23 497.12 19.07 497.09 17.91 497.06 16.75 497.03 15.58 497.01 14.42 497.00 13.26 497.00 12.10Z" fill="#b9b9b9"/>
<line x1="503.90" y1="143.62" x2="503.90" y2="186.30" stroke="#2a2a2a" stroke-width="2.0"/>
<rect x="502.00" y="185.50" width="3.8" height="1.6" rx="0.6" fill="#111"/>
<rect x="502.85" y="12.10" width="2.1" height="131.52" fill="#000"/>
<rect x="501.90" y="11.55" width="4.0" height="1.5" rx="0.7" fill="#000"/>
<path d="M545.00 12.10 544.99 13.26 544.98 14.42 544.95 15.58 544.91 16.75 544.86 17.91 544.80 19.07 544.73 20.23 544.65 21.39 544.56 22.55 544.47 23.71 544.36 24.87 544.25 26.04 544.13 27.20 544.00 28.36 543.87 29.52 543.74 30.68 543.60 31.84 543.45 33.00 543.31 34.17 543.16 35.33 543.01 36.49 542.86 37.65 542.71 38.81 542.56 39.97 542.41 41.13 542.27 42.29 542.13 43.46 541.98 44.62 541.85 45.78 541.71 46.94 541.58 48.10 541.46 49.26 541.34 50.42 541.22 51.59 541.11 52.75 541.00 53.91 540.90 55.07 540.80 56.23 540.71 57.39 540.62 58.55 540.54 59.71 540.46 60.88 540.39 62.04 540.32 63.20 540.25 64.36 540.19 65.52 540.14 66.68 540.09 67.84 540.04 69.01 540.00 70.17 539.96 71.33 539.92 72.49 539.89 73.65 539.86 74.81 539.83 75.97 539.81 77.13 539.78 78.30 539.76 79.46 539.74 80.62 539.73 81.78 539.70 83.91 539.68 86.05 539.66 88.18 539.65 90.31 539.64 92.45 539.63 94.58 539.62 96.71 539.62 98.84 539.61 100.98 539.61 103.11 539.61 105.24 539.61 107.38 539.61 109.51 539.62 111.64 539.64 113.78 539.65 115.91 539.67 118.04 539.69 120.18 539.71 122.31 539.74 124.44 539.76 126.57 539.78 128.71 539.81 130.84 539.83 132.97 539.86 135.11 539.88 137.24 539.90 139.37 539.92 141.51 539.95 143.64 539.98 145.77 540.02 147.90 540.05 150.04 540.08 152.17 540.11 154.30 540.14 156.44 540.16 158.57 540.18 160.70 540.19 162.84 540.20 164.97 540.19 167.10 540.17 169.24 540.13 171.37 540.07 173.50 540.01 175.63 539.93 177.77 539.85 179.90 539.75 182.03 539.58 184.17 539.40 186.30 534.40 186.30 534.22 184.17 534.05 182.03 533.95 179.90 533.87 177.77 533.79 175.63 533.73 173.50 533.67 171.37 533.63 169.24 533.61 167.10 533.60 164.97 533.61 162.84 533.62 160.70 533.64 158.57 533.66 156.44 533.69 154.30 533.72 152.17 533.75 150.04 533.78 147.90 533.82 145.77 533.85 143.64 533.88 141.51 533.90 139.37 533.92 137.24 533.94 135.11 533.97 132.97 533.99 130.84 534.02 128.71 534.04 126.57 534.06 124.44 534.09 122.31 534.11 120.18 534.13 118.04 534.15 115.91 534.16 113.78 534.18 111.64 534.19 109.51 534.19 107.38 534.19 105.24 534.19 103.11 534.19 100.98 534.18 98.84 534.18 96.71 534.17 94.58 534.16 92.45 534.15 90.31 534.14 88.18 534.12 86.05 534.10 83.91 534.07 81.78 534.06 80.62 534.04 79.46 534.02 78.30 533.99 77.13 533.97 75.97 533.94 74.81 533.91 73.65 533.88 72.49 533.84 71.33 533.80 70.17 533.76 69.01 533.71 67.84 533.66 66.68 533.61 65.52 533.55 64.36 533.48 63.20 533.41 62.04 533.34 60.88 533.26 59.71 533.18 58.55 533.09 57.39 533.00 56.23 532.90 55.07 532.80 53.91 532.69 52.75 532.58 51.59 532.46 50.42 532.34 49.26 532.22 48.10 532.09 46.94 531.95 45.78 531.82 44.62 531.67 43.46 531.53 42.29 531.39 41.13 531.24 39.97 531.09 38.81 530.94 37.65 530.79 36.49 530.64 35.33 530.49 34.17 530.35 33.00 530.20 31.84 530.06 30.68 529.93 29.52 529.80 28.36 529.67 27.20 529.55 26.04 529.44 24.87 529.33 23.71 529.24 22.55 529.15 21.39 529.07 20.23 529.00 19.07 528.94 17.91 528.89 16.75 528.85 15.58 528.82 14.42 528.81 13.26 528.80 12.10Z" fill="#b9b9b9"/>
<line x1="536.90" y1="116.79" x2="536.90" y2="186.30" stroke="#2a2a2a" stroke-width="2.0"/>
<rect x="535.00" y="185.50" width="3.8" height="1.6" rx="0.6" fill="#111"/>
<rect x="535.85" y="12.10" width="2.1" height="104.69" fill="#000"/>
<rect x="534.90" y="11.55" width="4.0" height="1.5" rx="0.7" fill="#000"/>
<path d="M578.10 12.10 578.10 13.26 578.08 14.42 578.06 15.58 578.02 16.75 577.98 17.91 577.93 19.07 577.87 20.23 577.80 21.39 577.72 22.55 577.63 23.71 577.54 24.87 577.44 26.04 577.33 27.20 577.22 28.36 577.10 29.52 576.98 30.68 576.85 31.84 576.72 33.00 576.59 34.17 576.45 35.33 576.31 36.49 576.17 37.65 576.03 38.81 575.89 39.97 575.75 41.13 575.61 42.29 575.47 43.46 575.34 44.62 575.20 45.78 575.07 46.94 574.94 48.10 574.81 49.26 574.69 50.42 574.57 51.59 574.45 52.75 574.34 53.91 574.23 55.07 574.12 56.23 574.02 57.39 573.92 58.55 573.83 59.71 573.74 60.88 573.66 62.04 573.58 63.20 573.51 64.36 573.44 65.52 573.37 66.68 573.31 67.84 573.25 69.01 573.19 70.17 573.14 71.33 573.10 72.49 573.05 73.65 573.01 74.81 572.97 75.97 572.94 77.13 572.91 78.30 572.88 79.46 572.85 80.62 572.82 81.78 572.78 83.91 572.75 86.05 572.72 88.18 572.70 90.31 572.68 92.45 572.66 94.58 572.65 96.71 572.64 98.84 572.63 100.98 572.62 103.11 572.62 105.24 572.62 107.38 572.62 109.51 572.63 111.64 572.64 113.78 572.66 115.91 572.67 118.04 572.69 120.18 572.71 122.31 572.74 124.44 572.76 126.57 572.78 128.71 572.81 130.84 572.83 132.97 572.86 135.11 572.88 137.24 572.90 139.37 572.92 141.51 572.95 143.64 572.98 145.77 573.02 147.90 573.05 150.04 573.08 152.17 573.11 154.30 573.14 156.44 573.16 158.57 573.18 160.70 573.19 162.84 573.20 164.97 573.19 167.10 573.17 169.24 573.13 171.37 573.07 173.50 573.01 175.63 572.93 177.77 572.85 179.90 572.75 182.03 572.58 184.17 572.40 186.30 567.40 186.30 567.22 184.17 567.05 182.03 566.95 179.90 566.87 177.77 566.79 175.63 566.73 173.50 566.67 171.37 566.63 169.24 566.61 167.10 566.60 164.97 566.61 162.84 566.62 160.70 566.64 158.57 566.66 156.44 566.69 154.30 566.72 152.17 566.75 150.04 566.78 147.90 566.82 145.77 566.85 143.64 566.88 141.51 566.90 139.37 566.92 137.24 566.94 135.11 566.97 132.97 566.99 130.84 567.02 128.71 567.04 126.57 567.06 124.44 567.09 122.31 567.11 120.18 567.13 118.04 567.14 115.91 567.16 113.78 567.17 111.64 567.18 109.51 567.18 107.38 567.18 105.24 567.18 103.11 567.17 100.98 567.16 98.84 567.15 96.71 567.14 94.58 567.12 92.45 567.10 90.31 567.08 88.18 567.05 86.05 567.02 83.91 566.98 81.78 566.95 80.62 566.92 79.46 566.89 78.30 566.86 77.13 566.83 75.97 566.79 74.81 566.75 73.65 566.70 72.49 566.66 71.33 566.61 70.17 566.55 69.01 566.49 67.84 566.43 66.68 566.36 65.52 566.29 64.36 566.22 63.20 566.14 62.04 566.06 60.88 565.97 59.71 565.88 58.55 565.78 57.39 565.68 56.23 565.57 55.07 565.46 53.91 565.35 52.75 565.23 51.59 565.11 50.42 564.99 49.26 564.86 48.10 564.73 46.94 564.60 45.78 564.46 44.62 564.33 43.46 564.19 42.29 564.05 41.13 563.91 39.97 563.77 38.81 563.63 37.65 563.49 36.49 563.35 35.33 563.21 34.17 563.08 33.00 562.95 31.84 562.82 30.68 562.70 29.52 562.58 28.36 562.47 27.20 562.36 26.04 562.26 24.87 562.17 23.71 562.08 22.55 562.00 21.39 561.93 20.23 561.87 19.07 561.82 17.91 561.78 16.75 561.74 15.58 561.72 14.42 561.70 13.26 561.70 12.10Z" fill="#b9b9b9"/>
<line x1="569.90" y1="116.79" x2="569.90" y2="186.30" stroke="#2a2a2a" stroke-width="2.0"/>
<rect x="568.00" y="185.50" width="3.8" height="1.6" rx="0.6" fill="#111"/>
<rect x="568.85" y="12.10" width="2.1" height="104.69" fill="#000"/>
<rect x="567.90" y="11.55" width="4.0" height="1.5" rx="0.7" fill="#000"/>
<path d="M612.35 12.10 612.34 13.26 612.32 14.42 612.28 15.58 612.23 16.75 612.16 17.91 612.07 19.07 611.97 20.23 611.86 21.39 611.74 22.55 611.61 23.71 611.46 24.87 611.31 26.04 611.14 27.20 610.97 28.36 610.79 29.52 610.61 30.68 610.42 31.84 610.22 33.00 610.03 34.17 609.83 35.33 609.63 36.49 609.44 37.65 609.24 38.81 609.05 39.97 608.86 41.13 608.67 42.29 608.48 43.46 608.30 44.62 608.13 45.78 607.96 46.94 607.80 48.10 607.64 49.26 607.49 50.42 607.35 51.59 607.22 52.75 607.09 53.91 606.97 55.07 606.85 56.23 606.74 57.39 606.64 58.55 606.55 59.71 606.46 60.88 606.38 62.04 606.31 63.20 606.24 64.36 606.17 65.52 606.11 66.68 606.06 67.84 606.01 69.01 605.97 70.17 605.93 71.33 605.90 72.49 605.87 73.65 605.85 74.81 605.82 75.97 605.80 77.13 605.79 78.30 605.77 79.46 605.76 80.62 605.75 81.78 605.74 83.91 605.73 86.05 605.72 88.18 605.72 90.31 605.72 92.45 605.71 94.58 605.71 96.71 605.71 98.84 605.71 100.98 605.71 103.11 605.70 105.24 605.70 107.38 605.70 109.51 605.70 111.64 605.70 113.78 605.70 115.91 605.70 118.04 605.70 120.18 605.70 122.31 605.70 124.44 605.70 126.57 605.70 128.71 605.70 130.84 605.70 132.97 605.70 135.11 605.70 137.24 605.70 139.37 605.70 141.51 605.69 143.64 605.69 145.77 605.68 147.90 605.68 150.04 605.67 152.17 605.67 154.30 605.66 156.44 605.65 158.57 605.64 160.70 605.63 162.84 605.62 164.97 605.61 167.10 605.60 169.24 605.58 171.37 605.55 173.50 605.50 175.63 605.45 177.77 605.39 179.90 605.33 182.03 605.23 184.17 605.10 186.30 600.70 186.30 600.57 184.17 600.47 182.03 600.41 179.90 600.35 177.77 600.30 175.63 600.25 173.50 600.22 171.37 600.20 169.24 600.19 167.10 600.18 164.97 600.17 162.84 600.16 160.70 600.15 158.57 600.14 156.44 600.13 154.30 600.13 152.17 600.12 150.04 600.12 147.90 600.11 145.77 600.11 143.64 600.10 141.51 600.10 139.37 600.10 137.24 600.10 135.11 600.10 132.97 600.10 130.84 600.10 128.71 600.10 126.57 600.10 124.44 600.10 122.31 600.10 120.18 600.10 118.04 600.10 115.91 600.10 113.78 600.10 111.64 600.10 109.51 600.10 107.38 600.10 105.24 600.09 103.11 600.09 100.98 600.09 98.84 600.09 96.71 600.09 94.58 600.08 92.45 600.08 90.31 600.08 88.18 600.07 86.05 600.06 83.91 600.05 81.78 600.04 80.62 600.03 79.46 600.01 78.30 600.00 77.13 599.98 75.97 599.95 74.81 599.93 73.65 599.90 72.49 599.87 71.33 599.83 70.17 599.79 69.01 599.74 67.84 599.69 66.68 599.63 65.52 599.56 64.36 599.49 63.20 599.42 62.04 599.34 60.88 599.25 59.71 599.16 58.55 599.06 57.39 598.95 56.23 598.83 55.07 598.71 53.91 598.58 52.75 598.45 51.59 598.31 50.42 598.16 49.26 598.00 48.10 597.84 46.94 597.67 45.78 597.50 44.62 597.32 43.46 597.13 42.29 596.94 41.13 596.75 39.97 596.56 38.81 596.36 37.65 596.17 36.49 595.97 35.33 595.77 34.17 595.58 33.00 595.38 31.84 595.19 30.68 595.01 29.52 594.83 28.36 594.66 27.20 594.49 26.04 594.34 24.87 594.19 23.71 594.06 22.55 593.94 21.39 593.83 20.23 593.73 19.07 593.64 17.91 593.57 16.75 593.52 15.58 593.48 14.42 593.46 13.26 593.45 12.10Z" fill="#b9b9b9"/>
<line x1="602.90" y1="92.93" x2="602.90" y2="186.30" stroke="#2a2a2a" stroke-width="2.0"/>
<rect x="601.00" y="185.50" width="3.8" height="1.6" rx="0.6" fill="#111"/>
<rect x="601.85" y="12.10" width="2.1" height="80.83" fill="#000"/>
<rect x="600.90" y="11.55" width="4.0" height="1.5" rx="0.7" fill="#000"/>
<path d="M645.75 12.10 645.74 13.26 645.72 14.42 645.68 15.58 645.62 16.75 645.55 17.91 645.46 19.07 645.36 20.23 645.25 21.39 645.12 22.55 644.98 23.71 644.83 24.87 644.67 26.04 644.50 27.20 644.33 28.36 644.14 29.52 643.95 30.68 643.75 31.84 643.55 33.00 643.35 34.17 643.14 35.33 642.94 36.49 642.73 37.65 642.52 38.81 642.32 39.97 642.12 41.13 641.92 42.29 641.73 43.46 641.54 44.62 641.36 45.78 641.18 46.94 641.00 48.10 640.84 49.26 640.68 50.42 640.53 51.59 640.38 52.75 640.24 53.91 640.11 55.07 639.99 56.23 639.87 57.39 639.77 58.55 639.66 59.71 639.57 60.88 639.48 62.04 639.40 63.20 639.32 64.36 639.25 65.52 639.19 66.68 639.13 67.84 639.07 69.01 639.03 70.17 638.99 71.33 638.95 72.49 638.91 73.65 638.88 74.81 638.86 75.97 638.83 77.13 638.81 78.30 638.80 79.46 638.78 80.62 638.77 81.78 638.75 83.91 638.74 86.05 638.73 88.18 638.73 90.31 638.72 92.45 638.72 94.58 638.72 96.71 638.71 98.84 638.71 100.98 638.71 103.11 638.70 105.24 638.70 107.38 638.70 109.51 638.70 111.64 638.70 113.78 638.70 115.91 638.70 118.04 638.70 120.18 638.70 122.31 638.70 124.44 638.70 126.57 638.70 128.71 638.70 130.84 638.70 132.97 638.70 135.11 638.70 137.24 638.70 139.37 638.70 141.51 638.69 143.64 638.69 145.77 638.68 147.90 638.68 150.04 638.67 152.17 638.67 154.30 638.66 156.44 638.65 158.57 638.64 160.70 638.63 162.84 638.62 164.97 638.61 167.10 638.60 169.24 638.58 171.37 638.55 173.50 638.50 175.63 638.45 177.77 638.39 179.90 638.33 182.03 638.23 184.17 638.10 186.30 633.70 186.30 633.57 184.17 633.47 182.03 633.41 179.90 633.35 177.77 633.30 175.63 633.25 173.50 633.22 171.37 633.20 169.24 633.19 167.10 633.18 164.97 633.17 162.84 633.16 160.70 633.15 158.57 633.14 156.44 633.13 154.30 633.13 152.17 633.12 150.04 633.12 147.90 633.11 145.77 633.11 143.64 633.10 141.51 633.10 139.37 633.10 137.24 633.10 135.11 633.10 132.97 633.10 130.84 633.10 128.71 633.10 126.57 633.10 124.44 633.10 122.31 633.10 120.18 633.10 118.04 633.10 115.91 633.10 113.78 633.10 111.64 633.10 109.51 633.10 107.38 633.10 105.24 633.09 103.11 633.09 100.98 633.09 98.84 633.08 96.71 633.08 94.58 633.08 92.45 633.07 90.31 633.07 88.18 633.06 86.05 633.05 83.91 633.03 81.78 633.02 80.62 633.00 79.46 632.99 78.30 632.97 77.13 632.94 75.97 632.92 74.81 632.89 73.65 632.85 72.49 632.81 71.33 632.77 70.17 632.73 69.01 632.67 67.84 632.61 66.68 632.55 65.52 632.48 64.36 632.40 63.20 632.32 62.04 632.23 60.88 632.14 59.71 632.03 58.55 631.93 57.39 631.81 56.23 631.69 55.07 631.56 53.91 631.42 52.75 631.27 51.59 631.12 50.42 630.96 49.26 630.80 48.10 630.62 46.94 630.44 45.78 630.26 44.62 630.07 43.46 629.88 42.29 629.68 41.13 629.48 39.97 629.28 38.81 629.07 37.65 628.86 36.49 628.66 35.33 628.45 34.17 628.25 33.00 628.05 31.84 627.85 30.68 627.66 29.52 627.47 28.36 627.30 27.20 627.13 26.04 626.97 24.87 626.82 23.71 626.68 22.55 626.55 21.39 626.44 20.23 626.34 19.07 626.25 17.91 626.18 16.75 626.12 15.58 626.08 14.42 626.06 13.26 626.05 12.10Z" fill="#b9b9b9"/>
<line x1="635.90" y1="91.36" x2="635.90" y2="186.30" stroke="#2a2a2a" stroke-width="2.0"/>
<rect x="634.00" y="185.50" width="3.8" height="1.6" rx="0.6" fill="#111"/>
<rect x="634.85" y="12.10" width="2.1" height="79.26" fill="#000"/>
<rect x="633.90" y="11.55" width="4.0" height="1.5" rx="0.7" fill="#000"/>
<path d="M679.76 12.10 679.75 13.26 679.71 14.42 679.65 15.58 679.56 16.75 679.45 17.91 679.31 19.07 679.16 20.23 678.98 21.39 678.79 22.55 678.58 23.71 678.35 24.87 678.11 26.04 677.86 27.20 677.60 28.36 677.34 29.52 677.06 30.68 676.79 31.84 676.51 33.00 676.23 34.17 675.96 35.33 675.68 36.49 675.41 37.65 675.15 38.81 674.90 39.97 674.65 41.13 674.41 42.29 674.18 43.46 673.96 44.62 673.76 45.78 673.56 46.94 673.37 48.10 673.20 49.26 673.04 50.42 672.89 51.59 672.75 52.75 672.62 53.91 672.50 55.07 672.39 56.23 672.29 57.39 672.20 58.55 672.12 59.71 672.04 60.88 671.98 62.04 671.92 63.20 671.86 64.36 671.82 65.52 671.78 66.68 671.75 67.84 671.72 69.01 671.70 70.17 671.69 71.33 671.68 72.49 671.68 73.65 671.68 74.81 671.68 75.97 671.69 77.13 671.70 78.30 671.71 79.46 671.72 80.62 671.73 81.78 671.76 83.91 671.79 86.05 671.82 88.18 671.84 90.31 671.87 92.45 671.88 94.58 671.90 96.71 671.90 98.84 671.90 100.98 671.90 103.11 671.89 105.24 671.88 107.38 671.87 109.51 671.85 111.64 671.84 113.78 671.82 115.91 671.81 118.04 671.79 120.18 671.77 122.31 671.76 124.44 671.74 126.57 671.73 128.71 671.71 130.84 671.70 132.97 671.70 135.11 671.69 137.24 671.68 139.37 671.68 141.51 671.67 143.64 671.67 145.77 671.66 147.90 671.66 150.04 671.66 152.17 671.65 154.30 671.65 156.44 671.64 158.57 671.64 160.70 671.63 162.84 671.62 164.97 671.61 167.10 671.60 169.24 671.58 171.37 671.55 173.50 671.50 175.63 671.45 177.77 671.39 179.90 671.33 182.03 671.23 184.17 671.10 186.30 666.70 186.30 666.57 184.17 666.47 182.03 666.41 179.90 666.35 177.77 666.30 175.63 666.25 173.50 666.22 171.37 666.20 169.24 666.19 167.10 666.18 164.97 666.17 162.84 666.16 160.70 666.16 158.57 666.15 156.44 666.15 154.30 666.14 152.17 666.14 150.04 666.14 147.90 666.13 145.77 666.13 143.64 666.12 141.51 666.12 139.37 666.11 137.24 666.10 135.11 666.10 132.97 666.09 130.84 666.07 128.71 666.06 126.57 666.04 124.44 666.03 122.31 666.01 120.18 665.99 118.04 665.98 115.91 665.96 113.78 665.95 111.64 665.93 109.51 665.92 107.38 665.91 105.24 665.90 103.11 665.90 100.98 665.90 98.84 665.90 96.71 665.92 94.58 665.93 92.45 665.96 90.31 665.98 88.18 666.01 86.05 666.04 83.91 666.07 81.78 666.08 80.62 666.09 79.46 666.10 78.30 666.11 77.13 666.12 75.97 666.12 74.81 666.12 73.65 666.12 72.49 666.11 71.33 666.10 70.17 666.08 69.01 666.05 67.84 666.02 66.68 665.98 65.52 665.94 64.36 665.88 63.20 665.82 62.04 665.76 60.88 665.68 59.71 665.60 58.55 665.51 57.39 665.41 56.23 665.30 55.07 665.18 53.91 665.05 52.75 664.91 51.59 664.76 50.42 664.60 49.26 664.43 48.10 664.24 46.94 664.04 45.78 663.84 44.62 663.62 43.46 663.39 42.29 663.15 41.13 662.90 39.97 662.65 38.81 662.39 37.65 662.12 36.49 661.84 35.33 661.57 34.17 661.29 33.00 661.01 31.84 660.74 30.68 660.46 29.52 660.20 28.36 659.94 27.20 659.69 26.04 659.45 24.87 659.22 23.71 659.01 22.55 658.82 21.39 658.64 20.23 658.49 19.07 658.35 17.91 658.24 16.75 658.15 15.58 658.09 14.42 658.05 13.26 658.04 12.10Z" fill="#b9b9b9"/>
<line x1="668.90" y1="82.83" x2="668.90" y2="186.30" stroke="#2a2a2a" stroke-width="2.0"/>
<rect x="667.00" y="185.50" width="3.8" height="1.6" rx="0.6" fill="#111"/>
<rect x="667.85" y="12.10" width="2.1" height="70.73" fill="#000"/>
<rect x="666.90" y="11.55" width="4.0" height="1.5" rx="0.7" fill="#000"/>
<path d="M712.86 12.10 712.85 13.26 712.81 14.42 712.75 15.58 712.66 16.75 712.55 17.91 712.42 19.07 712.26 20.23 712.09 21.39 711.89 22.55 711.68 23.71 711.46 24.87 711.22 26.04 710.97 27.20 710.71 28.36 710.44 29.52 710.17 30.68 709.89 31.84 709.61 33.00 709.33 34.17 709.06 35.33 708.78 36.49 708.51 37.65 708.25 38.81 707.99 39.97 707.74 41.13 707.50 42.29 707.26 43.46 707.04 44.62 706.83 45.78 706.63 46.94 706.44 48.10 706.27 49.26 706.10 50.42 705.95 51.59 705.80 52.75 705.67 53.91 705.55 55.07 705.43 56.23 705.33 57.39 705.24 58.55 705.15 59.71 705.07 60.88 705.01 62.04 704.94 63.20 704.89 64.36 704.84 65.52 704.80 66.68 704.76 67.84 704.74 69.01 704.72 70.17 704.70 71.33 704.69 72.49 704.69 73.65 704.69 74.81 704.69 75.97 704.69 77.13 704.70 78.30 704.71 79.46 704.72 80.62 704.74 81.78 704.76 83.91 704.79 86.05 704.82 88.18 704.84 90.31 704.87 92.45 704.88 94.58 704.90 96.71 704.90 98.84 704.90 100.98 704.90 103.11 704.89 105.24 704.88 107.38 704.87 109.51 704.85 111.64 704.84 113.78 704.82 115.91 704.81 118.04 704.79 120.18 704.77 122.31 704.76 124.44 704.74 126.57 704.73 128.71 704.71 130.84 704.70 132.97 704.70 135.11 704.69 137.24 704.68 139.37 704.68 141.51 704.67 143.64 704.67 145.77 704.66 147.90 704.66 150.04 704.66 152.17 704.65 154.30 704.65 156.44 704.64 158.57 704.64 160.70 704.63 162.84 704.62 164.97 704.61 167.10 704.60 169.24 704.58 171.37 704.55 173.50 704.50 175.63 704.45 177.77 704.39 179.90 704.33 182.03 704.23 184.17 704.10 186.30 699.70 186.30 699.57 184.17 699.47 182.03 699.41 179.90 699.35 177.77 699.30 175.63 699.25 173.50 699.22 171.37 699.20 169.24 699.19 167.10 699.18 164.97 699.17 162.84 699.16 160.70 699.16 158.57 699.15 156.44 699.15 154.30 699.14 152.17 699.14 150.04 699.14 147.90 699.13 145.77 699.13 143.64 699.12 141.51 699.12 139.37 699.11 137.24 699.10 135.11 699.10 132.97 699.09 130.84 699.07 128.71 699.06 126.57 699.04 124.44 699.03 122.31 699.01 120.18 698.99 118.04 698.98 115.91 698.96 113.78 698.95 111.64 698.93 109.51 698.92 107.38 698.91 105.24 698.90 103.11 698.90 100.98 698.90 98.84 698.90 96.71 698.92 94.58 698.93 92.45 698.96 90.31 698.98 88.18 699.01 86.05 699.04 83.91 699.06 81.78 699.08 80.62 699.09 79.46 699.10 78.30 699.11 77.13 699.11 75.97 699.11 74.81 699.11 73.65 699.11 72.49 699.10 71.33 699.08 70.17 699.06 69.01 699.04 67.84 699.00 66.68 698.96 65.52 698.91 64.36 698.86 63.20 698.79 62.04 698.73 60.88 698.65 59.71 698.56 58.55 698.47 57.39 698.37 56.23 698.25 55.07 698.13 53.91 698.00 52.75 697.85 51.59 697.70 50.42 697.53 49.26 697.36 48.10 697.17 46.94 696.97 45.78 696.76 44.62 696.54 43.46 696.30 42.29 696.06 41.13 695.81 39.97 695.55 38.81 695.29 37.65 695.02 36.49 694.74 35.33 694.47 34.17 694.19 33.00 693.91 31.84 693.63 30.68 693.36 29.52 693.09 28.36 692.83 27.20 692.58 26.04 692.34 24.87 692.12 23.71 691.91 22.55 691.71 21.39 691.54 20.23 691.38 19.07 691.25 17.91 691.14 16.75 691.05 15.58 690.99 14.42 690.95 13.26 690.94 12.10Z" fill="#b9b9b9"/>
<line x1="701.90" y1="82.83" x2="701.90" y2="186.30" stroke="#2a2a2a" stroke-width="2.0"/>
<rect x="700.00" y="185.50" width="3.8" height="1.6" rx="0.6" fill="#111"/>
<rect x="700.85" y="12.10" width="2.1" height="70.73" fill="#000"/>
<rect x="699.90" y="11.55" width="4.0" height="1.5" rx="0.7" fill="#000"/>
<path d="M748.65 12.10 748.62 13.26 748.52 14.42 748.36 15.58 748.14 16.75 747.86 17.91 747.53 19.07 747.16 20.23 746.74 21.39 746.29 22.55 745.81 23.71 745.32 24.87 744.81 26.04 744.29 27.20 743.77 28.36 743.26 29.52 742.76 30.68 742.27 31.84 741.81 33.00 741.36 34.17 740.95 35.33 740.55 36.49 740.19 37.65 739.86 38.81 739.56 39.97 739.28 41.13 739.03 42.29 738.81 43.46 738.62 44.62 738.44 45.78 738.29 46.94 738.16 48.10 738.05 49.26 737.96 50.42 737.87 51.59 737.81 52.75 737.75 53.91 737.70 55.07 737.66 56.23 737.62 57.39 737.58 58.55 737.55 59.71 737.51 60.88 737.47 62.04 737.43 63.20 737.40 64.36 737.36 65.52 737.32 66.68 737.29 67.84 737.26 69.01 737.22 70.17 737.20 71.33 737.17 72.49 737.15 73.65 737.13 74.81 737.11 75.97 737.10 77.13 737.10 78.30 737.11 79.46 737.12 80.62 737.14 81.78 737.20 83.91 737.28 86.05 737.36 88.18 737.44 90.31 737.52 92.45 737.57 94.58 737.60 96.71 737.60 98.84 737.60 100.98 737.60 103.11 737.60 105.24 737.60 107.38 737.60 109.51 737.60 111.64 737.60 113.78 737.60 115.91 737.60 118.04 737.59 120.18 737.57 122.31 737.55 124.44 737.52 126.57 737.50 128.71 737.47 130.84 737.46 132.97 737.45 135.11 737.46 137.24 737.49 139.37 737.52 141.51 737.55 143.64 737.55 145.77 737.52 147.90 737.47 150.04 737.40 152.17 737.33 154.30 737.24 156.44 737.16 158.57 737.08 160.70 736.98 162.84 736.87 164.97 736.75 167.10 736.64 169.24 736.54 171.37 736.46 173.50 736.39 175.63 736.33 177.77 736.27 179.90 736.22 182.03 736.16 184.17 736.10 186.30 733.70 186.30 733.64 184.17 733.58 182.03 733.53 179.90 733.47 177.77 733.41 175.63 733.34 173.50 733.26 171.37 733.16 169.24 733.05 167.10 732.93 164.97 732.82 162.84 732.72 160.70 732.64 158.57 732.56 156.44 732.47 154.30 732.40 152.17 732.33 150.04 732.28 147.90 732.25 145.77 732.25 143.64 732.28 141.51 732.31 139.37 732.34 137.24 732.35 135.11 732.34 132.97 732.33 130.84 732.30 128.71 732.28 126.57 732.25 124.44 732.23 122.31 732.21 120.18 732.20 118.04 732.20 115.91 732.20 113.78 732.20 111.64 732.20 109.51 732.20 107.38 732.20 105.24 732.20 103.11 732.20 100.98 732.20 98.84 732.20 96.71 732.23 94.58 732.28 92.45 732.36 90.31 732.44 88.18 732.52 86.05 732.60 83.91 732.66 81.78 732.68 80.62 732.69 79.46 732.70 78.30 732.70 77.13 732.69 75.97 732.67 74.81 732.65 73.65 732.63 72.49 732.60 71.33 732.58 70.17 732.54 69.01 732.51 67.84 732.48 66.68 732.44 65.52 732.40 64.36 732.37 63.20 732.33 62.04 732.29 60.88 732.25 59.71 732.22 58.55 732.18 57.39 732.14 56.23 732.10 55.07 732.05 53.91 731.99 52.75 731.93 51.59 731.84 50.42 731.75 49.26 731.64 48.10 731.51 46.94 731.36 45.78 731.18 44.62 730.99 43.46 730.77 42.29 730.52 41.13 730.24 39.97 729.94 38.81 729.61 37.65 729.25 36.49 728.85 35.33 728.44 34.17 727.99 33.00 727.53 31.84 727.04 30.68 726.54 29.52 726.03 28.36 725.51 27.20 724.99 26.04 724.48 24.87 723.99 23.71 723.51 22.55 723.06 21.39 722.64 20.23 722.27 19.07 721.94 17.91 721.66 16.75 721.44 15.58 721.28 14.42 721.18 13.26 721.15 12.10Z" fill="#b9b9b9"/>
<line x1="734.90" y1="67.15" x2="734.90" y2="142.75" stroke="#2a2a2a" stroke-width="2.0"/>
<rect x="733.00" y="141.95" width="3.8" height="1.6" rx="0.6" fill="#111"/>
<rect x="733.85" y="12.10" width="2.1" height="55.05" fill="#000"/>
<rect x="732.90" y="11.55" width="4.0" height="1.5" rx="0.7" fill="#000"/>
<circle cx="734.90" cy="151.46" r="1.15" fill="#000"/>
<circle cx="734.90" cy="160.17" r="1.15" fill="#000"/>
<circle cx="734.90" cy="186.30" r="1.15" fill="#000"/>
<path d="M781.80 12.10 781.77 13.26 781.68 14.42 781.54 15.58 781.34 16.75 781.08 17.91 780.78 19.07 780.44 20.23 780.05 21.39 779.64 22.55 779.19 23.71 778.72 24.87 778.24 26.04 777.75 27.20 777.25 28.36 776.76 29.52 776.27 30.68 775.79 31.84 775.33 33.00 774.88 34.17 774.45 35.33 774.05 36.49 773.67 37.65 773.32 38.81 772.99 39.97 772.69 41.13 772.42 42.29 772.17 43.46 771.94 44.62 771.74 45.78 771.56 46.94 771.41 48.10 771.27 49.26 771.15 50.42 771.04 51.59 770.95 52.75 770.88 53.91 770.81 55.07 770.75 56.23 770.70 57.39 770.65 58.55 770.60 59.71 770.56 60.88 770.51 62.04 770.47 63.20 770.42 64.36 770.38 65.52 770.34 66.68 770.30 67.84 770.27 69.01 770.23 70.17 770.20 71.33 770.17 72.49 770.15 73.65 770.13 74.81 770.12 75.97 770.11 77.13 770.10 78.30 770.11 79.46 770.12 80.62 770.14 81.78 770.20 83.91 770.28 86.05 770.36 88.18 770.44 90.31 770.52 92.45 770.57 94.58 770.60 96.71 770.60 98.84 770.60 100.98 770.60 103.11 770.60 105.24 770.60 107.38 770.60 109.51 770.60 111.64 770.60 113.78 770.60 115.91 770.60 118.04 770.59 120.18 770.57 122.31 770.55 124.44 770.52 126.57 770.50 128.71 770.47 130.84 770.46 132.97 770.45 135.11 770.46 137.24 770.49 139.37 770.52 141.51 770.55 143.64 770.55 145.77 770.52 147.90 770.47 150.04 770.40 152.17 770.33 154.30 770.24 156.44 770.16 158.57 770.08 160.70 769.98 162.84 769.87 164.97 769.75 167.10 769.64 169.24 769.54 171.37 769.46 173.50 769.39 175.63 769.33 177.77 769.27 179.90 769.22 182.03 769.16 184.17 769.10 186.30 766.70 186.30 766.64 184.17 766.58 182.03 766.53 179.90 766.47 177.77 766.41 175.63 766.34 173.50 766.26 171.37 766.16 169.24 766.05 167.10 765.93 164.97 765.82 162.84 765.72 160.70 765.64 158.57 765.56 156.44 765.47 154.30 765.40 152.17 765.33 150.04 765.28 147.90 765.25 145.77 765.25 143.64 765.28 141.51 765.31 139.37 765.34 137.24 765.35 135.11 765.34 132.97 765.33 130.84 765.30 128.71 765.28 126.57 765.25 124.44 765.23 122.31 765.21 120.18 765.20 118.04 765.20 115.91 765.20 113.78 765.20 111.64 765.20 109.51 765.20 107.38 765.20 105.24 765.20 103.11 765.20 100.98 765.20 98.84 765.20 96.71 765.23 94.58 765.28 92.45 765.36 90.31 765.44 88.18 765.52 86.05 765.60 83.91 765.66 81.78 765.68 80.62 765.69 79.46 765.70 78.30 765.69 77.13 765.68 75.97 765.67 74.81 765.65 73.65 765.63 72.49 765.60 71.33 765.57 70.17 765.53 69.01 765.50 67.84 765.46 66.68 765.42 65.52 765.38 64.36 765.33 63.20 765.29 62.04 765.24 60.88 765.20 59.71 765.15 58.55 765.10 57.39 765.05 56.23 764.99 55.07 764.92 53.91 764.85 52.75 764.76 51.59 764.65 50.42 764.53 49.26 764.39 48.10 764.24 46.94 764.06 45.78 763.86 44.62 763.63 43.46 763.38 42.29 763.11 41.13 762.81 39.97 762.48 38.81 762.13 37.65 761.75 36.49 761.35 35.33 760.92 34.17 760.47 33.00 760.01 31.84 759.53 30.68 759.04 29.52 758.55 28.36 758.05 27.20 757.56 26.04 757.08 24.87 756.61 23.71 756.16 22.55 755.75 21.39 755.36 20.23 755.02 19.07 754.72 17.91 754.46 16.75 754.26 15.58 754.12 14.42 754.03 13.26 754.00 12.10Z" fill="#b9b9b9"/>
<line x1="767.90" y1="67.15" x2="767.90" y2="142.75" stroke="#2a2a2a" stroke-width="2.0"/>
<rect x="766.00" y="141.95" width="3.8" height="1.6" rx="0.6" fill="#111"/>
<rect x="766.85" y="12.10" width="2.1" height="55.05" fill="#000"/>
<rect x="765.90" y="11.55" width="4.0" height="1.5" rx="0.7" fill="#000"/>
<circle cx="767.90" cy="151.46" r="1.15" fill="#000"/>
<circle cx="767.90" cy="160.17" r="1.15" fill="#000"/>
<circle cx="767.90" cy="186.30" r="1.15" fill="#000"/>
<line x1="448.30" y1="417.90" x2="451.30" y2="417.90" stroke="#333333" stroke-width="1.6"/>
<text transform="translate(441.07,420.40) scale(1,1.040)" class="tk">0</text>
<line x1="448.30" y1="374.35" x2="451.30" y2="374.35" stroke="#333333" stroke-width="1.6"/>
<text transform="translate(425.50,376.85) scale(1,1.040)" class="tk">0.25</text>
<line x1="448.30" y1="330.80" x2="451.30" y2="330.80" stroke="#333333" stroke-width="1.6"/>
<text transform="translate(425.50,333.30) scale(1,1.040)" class="tk">0.50</text>
<line x1="448.30" y1="287.25" x2="451.30" y2="287.25" stroke="#333333" stroke-width="1.6"/>
<text transform="translate(425.50,289.75) scale(1,1.040)" class="tk">0.75</text>
<line x1="448.30" y1="243.70" x2="451.30" y2="243.70" stroke="#333333" stroke-width="1.6"/>
<text transform="translate(441.07,246.20) scale(1,1.040)" class="tk"> </text><path transform="translate(441.07,246.20) scale(0.00547,-0.00547)" d="M763,0L583,0L583,1147Q518,1085 412,1023Q306,961 221,930L221,1104Q374,1176 488,1278Q602,1380 649,1476L763,1476Z" fill="#4d4d4d"/>
<line x1="470.90" y1="426.81" x2="470.90" y2="429.81" stroke="#333333" stroke-width="1.3"/>
<text transform="translate(467.79,441.11) scale(1,1.040)" class="tk"> </text><path transform="translate(467.79,441.11) scale(0.00547,-0.00547)" d="M763,0L583,0L583,1147Q518,1085 412,1023Q306,961 221,930L221,1104Q374,1176 488,1278Q602,1380 649,1476L763,1476Z" fill="#4d4d4d"/>
<line x1="503.90" y1="426.81" x2="503.90" y2="429.81" stroke="#333333" stroke-width="1.3"/>
<text transform="translate(500.79,441.11) scale(1,1.040)" class="tk">2</text>
<line x1="536.90" y1="426.81" x2="536.90" y2="429.81" stroke="#333333" stroke-width="1.3"/>
<text transform="translate(533.79,441.11) scale(1,1.040)" class="tk">3</text>
<line x1="569.90" y1="426.81" x2="569.90" y2="429.81" stroke="#333333" stroke-width="1.3"/>
<text transform="translate(566.79,441.11) scale(1,1.040)" class="tk">4</text>
<line x1="602.90" y1="426.81" x2="602.90" y2="429.81" stroke="#333333" stroke-width="1.3"/>
<text transform="translate(599.79,441.11) scale(1,1.040)" class="tk">5</text>
<line x1="635.90" y1="426.81" x2="635.90" y2="429.81" stroke="#333333" stroke-width="1.3"/>
<text transform="translate(632.79,441.11) scale(1,1.040)" class="tk">6</text>
<line x1="668.90" y1="426.81" x2="668.90" y2="429.81" stroke="#333333" stroke-width="1.3"/>
<text transform="translate(665.79,441.11) scale(1,1.040)" class="tk">7</text>
<line x1="701.90" y1="426.81" x2="701.90" y2="429.81" stroke="#333333" stroke-width="1.3"/>
<text transform="translate(698.79,441.11) scale(1,1.040)" class="tk">8</text>
<line x1="734.90" y1="426.81" x2="734.90" y2="429.81" stroke="#333333" stroke-width="1.3"/>
<text transform="translate(731.79,441.11) scale(1,1.040)" class="tk">9</text>
<line x1="767.90" y1="426.81" x2="767.90" y2="429.81" stroke="#333333" stroke-width="1.3"/>
<text transform="translate(761.67,441.11) scale(1,1.040)" class="tk"> 0</text><path transform="translate(761.67,441.11) scale(0.00547,-0.00547)" d="M763,0L583,0L583,1147Q518,1085 412,1023Q306,961 221,930L221,1104Q374,1176 488,1278Q602,1380 649,1476L763,1476Z" fill="#4d4d4d"/>
<path d="M451.30,235.29 L451.30,426.81 L788.00,426.81" fill="none" stroke="#141414" stroke-width="1.7" stroke-linejoin="miter" stroke-linecap="butt"/>
<path d="M475.95 243.70 475.95 244.86 475.93 246.02 475.91 247.18 475.87 248.35 475.83 249.51 475.78 250.67 475.72 251.83 475.65 252.99 475.57 254.15 475.49 255.31 475.40 256.47 475.31 257.64 475.22 258.80 475.11 259.96 475.01 261.12 474.91 262.28 474.80 263.44 474.69 264.60 474.58 265.77 474.48 266.93 474.37 268.09 474.27 269.25 474.16 270.41 474.07 271.57 473.97 272.73 473.88 273.89 473.79 275.06 473.70 276.22 473.62 277.38 473.55 278.54 473.48 279.70 473.41 280.86 473.35 282.02 473.29 283.19 473.23 284.35 473.18 285.51 473.14 286.67 473.09 287.83 473.06 288.99 473.02 290.15 472.99 291.31 472.96 292.48 472.93 293.64 472.91 294.80 472.89 295.96 472.87 297.12 472.86 298.28 472.84 299.44 472.83 300.61 472.82 301.77 472.82 302.93 472.81 304.09 472.80 305.25 472.80 306.41 472.80 307.57 472.80 308.73 472.80 309.90 472.80 311.06 472.80 312.22 472.80 313.38 472.80 315.51 472.81 317.65 472.82 319.78 472.82 321.91 472.83 324.05 472.84 326.18 472.84 328.31 472.85 330.44 472.86 332.58 472.86 334.71 472.87 336.84 472.88 338.98 472.89 341.11 472.89 343.24 472.90 345.38 472.91 347.51 472.92 349.64 472.92 351.78 472.93 353.91 472.94 356.04 472.94 358.17 472.95 360.31 472.95 362.44 472.95 364.57 472.95 366.71 472.95 368.84 472.95 370.97 472.95 373.11 472.95 375.24 472.95 377.37 472.95 379.50 472.95 381.64 472.95 383.77 472.95 385.90 472.95 388.04 472.95 390.17 472.95 392.30 472.95 394.44 472.95 396.57 472.95 398.70 472.95 400.84 472.94 402.97 472.91 405.10 472.86 407.23 472.81 409.37 472.75 411.50 472.68 413.63 472.58 415.77 472.45 417.90 469.35 417.90 469.22 415.77 469.12 413.63 469.05 411.50 468.99 409.37 468.94 407.23 468.89 405.10 468.86 402.97 468.85 400.84 468.85 398.70 468.85 396.57 468.85 394.44 468.85 392.30 468.85 390.17 468.85 388.04 468.85 385.90 468.85 383.77 468.85 381.64 468.85 379.50 468.85 377.37 468.85 375.24 468.85 373.11 468.85 370.97 468.85 368.84 468.85 366.71 468.85 364.57 468.85 362.44 468.85 360.31 468.86 358.17 468.86 356.04 468.87 353.91 468.88 351.78 468.88 349.64 468.89 347.51 468.90 345.38 468.91 343.24 468.91 341.11 468.92 338.98 468.93 336.84 468.94 334.71 468.94 332.58 468.95 330.44 468.96 328.31 468.96 326.18 468.97 324.05 468.98 321.91 468.98 319.78 468.99 317.65 469.00 315.51 469.00 313.38 469.00 312.22 469.00 311.06 469.00 309.90 469.00 308.73 469.00 307.57 469.00 306.41 469.00 305.25 468.99 304.09 468.98 302.93 468.98 301.77 468.97 300.61 468.96 299.44 468.94 298.28 468.93 297.12 468.91 295.96 468.89 294.80 468.87 293.64 468.84 292.48 468.81 291.31 468.78 290.15 468.74 288.99 468.71 287.83 468.66 286.67 468.62 285.51 468.57 284.35 468.51 283.19 468.45 282.02 468.39 280.86 468.32 279.70 468.25 278.54 468.18 277.38 468.10 276.22 468.01 275.06 467.92 273.89 467.83 272.73 467.73 271.57 467.64 270.41 467.53 269.25 467.43 268.09 467.32 266.93 467.22 265.77 467.11 264.60 467.00 263.44 466.89 262.28 466.79 261.12 466.69 259.96 466.58 258.80 466.49 257.64 466.40 256.47 466.31 255.31 466.23 254.15 466.15 252.99 466.08 251.83 466.02 250.67 465.97 249.51 465.93 248.35 465.89 247.18 465.87 246.02 465.85 244.86 465.85 243.70Z" fill="#b9b9b9"/>
<line x1="470.90" y1="348.22" x2="470.90" y2="417.90" stroke="#2a2a2a" stroke-width="2.0"/>
<rect x="469.00" y="417.10" width="3.8" height="1.6" rx="0.6" fill="#111"/>
<rect x="469.85" y="243.70" width="2.1" height="104.52" fill="#000"/>
<rect x="468.90" y="243.15" width="4.0" height="1.5" rx="0.7" fill="#000"/>
<path d="M510.10 243.70 510.09 244.86 510.07 246.02 510.03 247.18 509.97 248.35 509.89 249.51 509.81 250.67 509.71 251.83 509.59 252.99 509.47 254.15 509.34 255.31 509.20 256.47 509.05 257.64 508.89 258.80 508.73 259.96 508.57 261.12 508.41 262.28 508.25 263.44 508.09 264.60 507.93 265.77 507.78 266.93 507.63 268.09 507.48 269.25 507.34 270.41 507.21 271.57 507.08 272.73 506.97 273.89 506.86 275.06 506.75 276.22 506.66 277.38 506.57 278.54 506.49 279.70 506.41 280.86 506.34 282.02 506.28 283.19 506.23 284.35 506.18 285.51 506.13 286.67 506.09 287.83 506.06 288.99 506.03 290.15 506.00 291.31 505.98 292.48 505.96 293.64 505.94 294.80 505.93 295.96 505.92 297.12 505.91 298.28 505.90 299.44 505.89 300.61 505.89 301.77 505.89 302.93 505.89 304.09 505.89 305.25 505.90 306.41 505.90 307.57 505.91 308.73 505.91 309.90 505.92 311.06 505.93 312.22 505.94 313.38 505.95 315.34 505.97 317.29 505.98 319.25 505.99 321.20 506.01 323.16 506.02 325.11 506.03 327.07 506.04 329.02 506.05 330.98 506.06 332.93 506.07 334.89 506.07 336.84 506.08 338.80 506.09 340.75 506.10 342.71 506.10 344.66 506.11 346.62 506.12 348.58 506.12 350.53 506.13 352.49 506.13 354.44 506.14 356.40 506.14 358.35 506.15 360.31 506.15 362.26 506.15 364.22 506.15 366.17 506.15 368.13 506.14 370.08 506.14 372.04 506.13 373.99 506.12 375.95 506.11 377.91 506.10 379.86 506.08 381.82 506.07 383.77 506.05 385.73 506.03 387.68 506.01 389.64 505.98 391.59 505.96 393.55 505.93 395.50 505.90 397.46 505.87 399.41 505.83 401.37 505.76 403.32 505.66 405.28 505.55 407.23 505.45 409.19 502.35 409.19 502.25 407.23 502.14 405.28 502.04 403.32 501.97 401.37 501.93 399.41 501.90 397.46 501.87 395.50 501.84 393.55 501.82 391.59 501.79 389.64 501.77 387.68 501.75 385.73 501.73 383.77 501.72 381.82 501.70 379.86 501.69 377.91 501.68 375.95 501.67 373.99 501.66 372.04 501.66 370.08 501.65 368.13 501.65 366.17 501.65 364.22 501.65 362.26 501.65 360.31 501.66 358.35 501.66 356.40 501.67 354.44 501.67 352.49 501.68 350.53 501.68 348.58 501.69 346.62 501.70 344.66 501.70 342.71 501.71 340.75 501.72 338.80 501.73 336.84 501.73 334.89 501.74 332.93 501.75 330.98 501.76 329.02 501.77 327.07 501.78 325.11 501.79 323.16 501.81 321.20 501.82 319.25 501.83 317.29 501.85 315.34 501.86 313.38 501.87 312.22 501.88 311.06 501.89 309.90 501.89 308.73 501.90 307.57 501.90 306.41 501.91 305.25 501.91 304.09 501.91 302.93 501.91 301.77 501.91 300.61 501.90 299.44 501.89 298.28 501.88 297.12 501.87 295.96 501.86 294.80 501.84 293.64 501.82 292.48 501.80 291.31 501.77 290.15 501.74 288.99 501.71 287.83 501.67 286.67 501.62 285.51 501.57 284.35 501.52 283.19 501.46 282.02 501.39 280.86 501.31 279.70 501.23 278.54 501.14 277.38 501.05 276.22 500.94 275.06 500.83 273.89 500.72 272.73 500.59 271.57 500.46 270.41 500.32 269.25 500.17 268.09 500.02 266.93 499.87 265.77 499.71 264.60 499.55 263.44 499.39 262.28 499.23 261.12 499.07 259.96 498.91 258.80 498.75 257.64 498.60 256.47 498.46 255.31 498.33 254.15 498.21 252.99 498.09 251.83 497.99 250.67 497.91 249.51 497.83 248.35 497.77 247.18 497.73 246.02 497.71 244.86 497.70 243.70Z" fill="#b9b9b9"/>
<line x1="503.90" y1="333.94" x2="503.90" y2="409.19" stroke="#2a2a2a" stroke-width="2.0"/>
<rect x="502.00" y="408.39" width="3.8" height="1.6" rx="0.6" fill="#111"/>
<rect x="502.85" y="243.70" width="2.1" height="90.24" fill="#000"/>
<rect x="501.90" y="243.15" width="4.0" height="1.5" rx="0.7" fill="#000"/>
<path d="M543.97 243.70 543.96 244.86 543.93 246.02 543.88 247.18 543.82 248.35 543.74 249.51 543.64 250.67 543.52 251.83 543.39 252.99 543.25 254.15 543.09 255.31 542.93 256.47 542.76 257.64 542.58 258.80 542.39 259.96 542.20 261.12 542.01 262.28 541.82 263.44 541.63 264.60 541.44 265.77 541.25 266.93 541.07 268.09 540.90 269.25 540.73 270.41 540.56 271.57 540.41 272.73 540.26 273.89 540.12 275.06 539.99 276.22 539.86 277.38 539.75 278.54 539.64 279.70 539.55 280.86 539.46 282.02 539.37 283.19 539.30 284.35 539.23 285.51 539.17 286.67 539.12 287.83 539.07 288.99 539.03 290.15 538.99 291.31 538.95 292.48 538.92 293.64 538.90 294.80 538.88 295.96 538.86 297.12 538.84 298.28 538.83 299.44 538.82 300.61 538.81 301.77 538.80 302.93 538.80 304.09 538.79 305.25 538.79 306.41 538.79 307.57 538.79 308.73 538.79 309.90 538.79 311.06 538.79 312.22 538.79 313.38 538.80 315.16 538.80 316.94 538.81 318.71 538.82 320.49 538.82 322.27 538.83 324.05 538.83 325.82 538.84 327.60 538.85 329.38 538.85 331.16 538.86 332.93 538.86 334.71 538.87 336.49 538.88 338.27 538.88 340.04 538.89 341.82 538.90 343.60 538.90 345.38 538.91 347.15 538.92 348.93 538.92 350.71 538.93 352.49 538.93 354.26 538.94 356.04 538.94 357.82 538.94 359.60 538.95 361.37 538.95 363.15 538.95 364.93 538.95 366.71 538.95 368.48 538.94 370.26 538.93 372.04 538.91 373.82 538.90 375.59 538.88 377.37 538.86 379.15 538.83 380.93 538.81 382.70 538.78 384.48 538.75 386.26 538.72 388.04 538.69 389.81 538.65 391.59 538.61 393.37 538.55 395.15 538.49 396.92 538.42 398.70 538.35 400.48 535.45 400.48 535.38 398.70 535.31 396.92 535.25 395.15 535.19 393.37 535.15 391.59 535.11 389.81 535.08 388.04 535.05 386.26 535.02 384.48 534.99 382.70 534.97 380.93 534.94 379.15 534.92 377.37 534.90 375.59 534.89 373.82 534.87 372.04 534.86 370.26 534.85 368.48 534.85 366.71 534.85 364.93 534.85 363.15 534.85 361.37 534.86 359.60 534.86 357.82 534.86 356.04 534.87 354.26 534.87 352.49 534.88 350.71 534.88 348.93 534.89 347.15 534.90 345.38 534.90 343.60 534.91 341.82 534.92 340.04 534.92 338.27 534.93 336.49 534.94 334.71 534.94 332.93 534.95 331.16 534.95 329.38 534.96 327.60 534.97 325.82 534.97 324.05 534.98 322.27 534.98 320.49 534.99 318.71 535.00 316.94 535.00 315.16 535.01 313.38 535.01 312.22 535.01 311.06 535.01 309.90 535.01 308.73 535.01 307.57 535.01 306.41 535.01 305.25 535.00 304.09 535.00 302.93 534.99 301.77 534.98 300.61 534.97 299.44 534.96 298.28 534.94 297.12 534.92 295.96 534.90 294.80 534.88 293.64 534.85 292.48 534.81 291.31 534.77 290.15 534.73 288.99 534.68 287.83 534.63 286.67 534.57 285.51 534.50 284.35 534.43 283.19 534.34 282.02 534.25 280.86 534.16 279.70 534.05 278.54 533.94 277.38 533.81 276.22 533.68 275.06 533.54 273.89 533.39 272.73 533.24 271.57 533.07 270.41 532.90 269.25 532.73 268.09 532.55 266.93 532.36 265.77 532.17 264.60 531.98 263.44 531.79 262.28 531.60 261.12 531.41 259.96 531.22 258.80 531.04 257.64 530.87 256.47 530.71 255.31 530.55 254.15 530.41 252.99 530.28 251.83 530.16 250.67 530.06 249.51 529.98 248.35 529.92 247.18 529.87 246.02 529.84 244.86 529.83 243.70Z" fill="#b9b9b9"/>
<line x1="536.90" y1="314.25" x2="536.90" y2="400.48" stroke="#2a2a2a" stroke-width="2.0"/>
<rect x="535.00" y="399.68" width="3.8" height="1.6" rx="0.6" fill="#111"/>
<rect x="535.85" y="243.70" width="2.1" height="70.55" fill="#000"/>
<rect x="534.90" y="243.15" width="4.0" height="1.5" rx="0.7" fill="#000"/>
<path d="M576.97 243.70 576.96 244.86 576.93 246.02 576.89 247.18 576.83 248.35 576.75 249.51 576.65 250.67 576.54 251.83 576.42 252.99 576.29 254.15 576.14 255.31 575.98 256.47 575.82 257.64 575.65 258.80 575.47 259.96 575.29 261.12 575.10 262.28 574.92 263.44 574.73 264.60 574.55 265.77 574.37 266.93 574.19 268.09 574.02 269.25 573.86 270.41 573.70 271.57 573.54 272.73 573.40 273.89 573.26 275.06 573.13 276.22 573.00 277.38 572.89 278.54 572.78 279.70 572.68 280.86 572.59 282.02 572.51 283.19 572.43 284.35 572.37 285.51 572.30 286.67 572.25 287.83 572.20 288.99 572.15 290.15 572.11 291.31 572.07 292.48 572.04 293.64 572.02 294.80 571.99 295.96 571.97 297.12 571.95 298.28 571.94 299.44 571.92 300.61 571.91 301.77 571.90 302.93 571.89 304.09 571.89 305.25 571.88 306.41 571.87 307.57 571.87 308.73 571.87 309.90 571.86 311.06 571.86 312.22 571.86 313.38 571.86 314.98 571.85 316.58 571.85 318.18 571.85 319.78 571.85 321.38 571.85 322.98 571.85 324.58 571.85 326.18 571.85 327.78 571.85 329.38 571.85 330.98 571.85 332.58 571.85 334.18 571.86 335.78 571.86 337.38 571.86 338.98 571.87 340.58 571.88 342.18 571.88 343.78 571.89 345.38 571.89 346.98 571.90 348.58 571.91 350.18 571.92 351.78 571.92 353.37 571.93 354.97 571.93 356.57 571.94 358.17 571.94 359.77 571.95 361.37 571.95 362.97 571.95 364.57 571.95 366.17 571.94 367.77 571.93 369.37 571.91 370.97 571.88 372.57 571.86 374.17 571.82 375.77 571.79 377.37 571.75 378.97 571.71 380.57 571.67 382.17 571.63 383.77 571.58 385.37 571.53 386.97 571.47 388.57 571.41 390.17 571.35 391.77 568.45 391.77 568.39 390.17 568.33 388.57 568.27 386.97 568.22 385.37 568.17 383.77 568.13 382.17 568.09 380.57 568.05 378.97 568.01 377.37 567.98 375.77 567.94 374.17 567.92 372.57 567.89 370.97 567.87 369.37 567.86 367.77 567.85 366.17 567.85 364.57 567.85 362.97 567.85 361.37 567.86 359.77 567.86 358.17 567.87 356.57 567.87 354.97 567.88 353.37 567.88 351.78 567.89 350.18 567.90 348.58 567.91 346.98 567.91 345.38 567.92 343.78 567.92 342.18 567.93 340.58 567.94 338.98 567.94 337.38 567.94 335.78 567.95 334.18 567.95 332.58 567.95 330.98 567.95 329.38 567.95 327.78 567.95 326.18 567.95 324.58 567.95 322.98 567.95 321.38 567.95 319.78 567.95 318.18 567.95 316.58 567.94 314.98 567.94 313.38 567.94 312.22 567.94 311.06 567.93 309.90 567.93 308.73 567.93 307.57 567.92 306.41 567.91 305.25 567.91 304.09 567.90 302.93 567.89 301.77 567.88 300.61 567.86 299.44 567.85 298.28 567.83 297.12 567.81 295.96 567.78 294.80 567.76 293.64 567.73 292.48 567.69 291.31 567.65 290.15 567.60 288.99 567.55 287.83 567.50 286.67 567.43 285.51 567.37 284.35 567.29 283.19 567.21 282.02 567.12 280.86 567.02 279.70 566.91 278.54 566.80 277.38 566.67 276.22 566.54 275.06 566.40 273.89 566.26 272.73 566.10 271.57 565.94 270.41 565.78 269.25 565.61 268.09 565.43 266.93 565.25 265.77 565.07 264.60 564.88 263.44 564.70 262.28 564.51 261.12 564.33 259.96 564.15 258.80 563.98 257.64 563.82 256.47 563.66 255.31 563.51 254.15 563.38 252.99 563.26 251.83 563.15 250.67 563.05 249.51 562.97 248.35 562.91 247.18 562.87 246.02 562.84 244.86 562.83 243.70Z" fill="#b9b9b9"/>
<line x1="569.90" y1="314.25" x2="569.90" y2="391.77" stroke="#2a2a2a" stroke-width="2.0"/>
<rect x="568.00" y="390.97" width="3.8" height="1.6" rx="0.6" fill="#111"/>
<rect x="568.85" y="243.70" width="2.1" height="70.55" fill="#000"/>
<rect x="567.90" y="243.15" width="4.0" height="1.5" rx="0.7" fill="#000"/>
<path d="M610.98 243.70 610.96 244.86 610.91 246.02 610.83 247.18 610.72 248.35 610.58 249.51 610.42 250.67 610.23 251.83 610.02 252.99 609.79 254.15 609.54 255.31 609.28 256.47 609.02 257.64 608.75 258.80 608.47 259.96 608.20 261.12 607.93 262.28 607.67 263.44 607.41 264.60 607.16 265.77 606.93 266.93 606.71 268.09 606.50 269.25 606.30 270.41 606.12 271.57 605.96 272.73 605.81 273.89 605.67 275.06 605.55 276.22 605.43 277.38 605.34 278.54 605.25 279.70 605.17 280.86 605.11 282.02 605.05 283.19 605.00 284.35 604.96 285.51 604.92 286.67 604.89 287.83 604.86 288.99 604.84 290.15 604.83 291.31 604.81 292.48 604.80 293.64 604.79 294.80 604.78 295.96 604.77 297.12 604.77 298.28 604.77 299.44 604.76 300.61 604.76 301.77 604.76 302.93 604.76 304.09 604.77 305.25 604.77 306.41 604.77 307.57 604.77 308.73 604.78 309.90 604.78 311.06 604.78 312.22 604.79 313.38 604.79 314.98 604.80 316.58 604.81 318.18 604.81 319.78 604.82 321.38 604.82 322.98 604.83 324.58 604.84 326.18 604.84 327.78 604.85 329.38 604.85 330.98 604.86 332.58 604.86 334.18 604.87 335.78 604.87 337.38 604.88 338.98 604.88 340.58 604.89 342.18 604.90 343.78 604.90 345.38 604.91 346.98 604.91 348.58 604.92 350.18 604.92 351.78 604.93 353.37 604.93 354.97 604.94 356.57 604.94 358.17 604.94 359.77 604.95 361.37 604.95 362.97 604.95 364.57 604.95 366.17 604.94 367.77 604.93 369.37 604.91 370.97 604.88 372.57 604.86 374.17 604.82 375.77 604.79 377.37 604.75 378.97 604.71 380.57 604.67 382.17 604.63 383.77 604.58 385.37 604.53 386.97 604.47 388.57 604.41 390.17 604.35 391.77 601.45 391.77 601.39 390.17 601.33 388.57 601.27 386.97 601.22 385.37 601.17 383.77 601.13 382.17 601.09 380.57 601.05 378.97 601.01 377.37 600.98 375.77 600.94 374.17 600.92 372.57 600.89 370.97 600.87 369.37 600.86 367.77 600.85 366.17 600.85 364.57 600.85 362.97 600.85 361.37 600.86 359.77 600.86 358.17 600.86 356.57 600.87 354.97 600.87 353.37 600.88 351.78 600.88 350.18 600.89 348.58 600.89 346.98 600.90 345.38 600.90 343.78 600.91 342.18 600.92 340.58 600.92 338.98 600.93 337.38 600.93 335.78 600.94 334.18 600.94 332.58 600.95 330.98 600.95 329.38 600.96 327.78 600.96 326.18 600.97 324.58 600.98 322.98 600.98 321.38 600.99 319.78 600.99 318.18 601.00 316.58 601.01 314.98 601.01 313.38 601.02 312.22 601.02 311.06 601.02 309.90 601.03 308.73 601.03 307.57 601.03 306.41 601.03 305.25 601.04 304.09 601.04 302.93 601.04 301.77 601.04 300.61 601.03 299.44 601.03 298.28 601.03 297.12 601.02 295.96 601.01 294.80 601.00 293.64 600.99 292.48 600.97 291.31 600.96 290.15 600.94 288.99 600.91 287.83 600.88 286.67 600.84 285.51 600.80 284.35 600.75 283.19 600.69 282.02 600.63 280.86 600.55 279.70 600.46 278.54 600.37 277.38 600.25 276.22 600.13 275.06 599.99 273.89 599.84 272.73 599.68 271.57 599.50 270.41 599.30 269.25 599.09 268.09 598.87 266.93 598.64 265.77 598.39 264.60 598.13 263.44 597.87 262.28 597.60 261.12 597.33 259.96 597.05 258.80 596.78 257.64 596.52 256.47 596.26 255.31 596.01 254.15 595.78 252.99 595.57 251.83 595.38 250.67 595.22 249.51 595.08 248.35 594.97 247.18 594.89 246.02 594.84 244.86 594.82 243.70Z" fill="#b9b9b9"/>
<line x1="602.90" y1="306.59" x2="602.90" y2="391.77" stroke="#2a2a2a" stroke-width="2.0"/>
<rect x="601.00" y="390.97" width="3.8" height="1.6" rx="0.6" fill="#111"/>
<rect x="601.85" y="243.70" width="2.1" height="62.89" fill="#000"/>
<rect x="600.90" y="243.15" width="4.0" height="1.5" rx="0.7" fill="#000"/>
<path d="M644.84 243.70 644.82 244.86 644.78 246.02 644.70 247.18 644.58 248.35 644.44 249.51 644.28 250.67 644.09 251.83 643.87 252.99 643.64 254.15 643.39 255.31 643.13 256.47 642.85 257.64 642.57 258.80 642.29 259.96 642.00 261.12 641.71 262.28 641.43 263.44 641.16 264.60 640.89 265.77 640.63 266.93 640.38 268.09 640.15 269.25 639.93 270.41 639.72 271.57 639.52 272.73 639.35 273.89 639.18 275.06 639.03 276.22 638.90 277.38 638.77 278.54 638.66 279.70 638.56 280.86 638.48 282.02 638.40 283.19 638.33 284.35 638.27 285.51 638.22 286.67 638.18 287.83 638.14 288.99 638.11 290.15 638.08 291.31 638.06 292.48 638.04 293.64 638.02 294.80 638.01 295.96 638.01 297.12 638.03 298.28 638.06 299.44 638.10 300.61 638.14 301.77 638.19 302.93 638.22 304.09 638.25 305.25 638.26 306.41 638.25 307.57 638.24 308.73 638.23 309.90 638.21 311.06 638.19 312.22 638.17 313.38 638.13 314.98 638.09 316.58 638.05 318.18 638.00 319.78 637.96 321.38 637.91 322.98 637.87 324.58 637.83 326.18 637.80 327.78 637.77 329.38 637.75 330.98 637.73 332.58 637.71 334.18 637.69 335.78 637.68 337.38 637.66 338.98 637.64 340.58 637.63 342.18 637.61 343.78 637.60 345.38 637.59 346.98 637.58 348.58 637.57 350.18 637.56 351.78 637.56 353.37 637.55 354.97 637.55 356.57 637.55 358.17 637.55 359.77 637.55 361.37 637.55 362.97 637.55 364.57 637.55 366.17 637.55 367.77 637.55 369.37 637.55 370.97 637.55 372.57 637.55 374.17 637.55 375.77 637.55 377.37 637.55 378.97 637.55 380.57 637.55 382.17 637.54 383.77 637.50 385.37 637.42 386.97 637.33 388.57 637.23 390.17 637.15 391.77 634.65 391.77 634.57 390.17 634.47 388.57 634.38 386.97 634.30 385.37 634.26 383.77 634.25 382.17 634.25 380.57 634.25 378.97 634.25 377.37 634.25 375.77 634.25 374.17 634.25 372.57 634.25 370.97 634.25 369.37 634.25 367.77 634.25 366.17 634.25 364.57 634.25 362.97 634.25 361.37 634.25 359.77 634.25 358.17 634.25 356.57 634.25 354.97 634.24 353.37 634.24 351.78 634.23 350.18 634.22 348.58 634.21 346.98 634.20 345.38 634.19 343.78 634.17 342.18 634.16 340.58 634.14 338.98 634.12 337.38 634.11 335.78 634.09 334.18 634.07 332.58 634.05 330.98 634.03 329.38 634.00 327.78 633.97 326.18 633.93 324.58 633.89 322.98 633.84 321.38 633.80 319.78 633.75 318.18 633.71 316.58 633.67 314.98 633.63 313.38 633.61 312.22 633.59 311.06 633.57 309.90 633.56 308.73 633.55 307.57 633.54 306.41 633.55 305.25 633.58 304.09 633.61 302.93 633.66 301.77 633.70 300.61 633.74 299.44 633.77 298.28 633.79 297.12 633.79 295.96 633.78 294.80 633.76 293.64 633.74 292.48 633.72 291.31 633.69 290.15 633.66 288.99 633.62 287.83 633.58 286.67 633.53 285.51 633.47 284.35 633.40 283.19 633.32 282.02 633.24 280.86 633.14 279.70 633.03 278.54 632.90 277.38 632.77 276.22 632.62 275.06 632.45 273.89 632.28 272.73 632.08 271.57 631.87 270.41 631.65 269.25 631.42 268.09 631.17 266.93 630.91 265.77 630.64 264.60 630.37 263.44 630.09 262.28 629.80 261.12 629.51 259.96 629.23 258.80 628.95 257.64 628.67 256.47 628.41 255.31 628.16 254.15 627.93 252.99 627.71 251.83 627.52 250.67 627.36 249.51 627.22 248.35 627.10 247.18 627.02 246.02 626.98 244.86 626.96 243.70Z" fill="#b9b9b9"/>
<line x1="635.90" y1="299.10" x2="635.90" y2="374.18" stroke="#2a2a2a" stroke-width="2.0"/>
<rect x="634.00" y="373.38" width="3.8" height="1.6" rx="0.6" fill="#111"/>
<rect x="634.85" y="243.70" width="2.1" height="55.40" fill="#000"/>
<rect x="633.90" y="243.15" width="4.0" height="1.5" rx="0.7" fill="#000"/>
<circle cx="635.90" cy="383.06" r="1.15" fill="#000"/>
<circle cx="635.90" cy="391.77" r="1.15" fill="#000"/>
<path d="M679.86 243.70 679.82 244.86 679.71 246.02 679.54 247.18 679.29 248.35 678.99 249.51 678.63 250.67 678.23 251.83 677.80 252.99 677.33 254.15 676.86 255.31 676.37 256.47 675.88 257.64 675.40 258.80 674.94 259.96 674.50 261.12 674.08 262.28 673.69 263.44 673.33 264.60 673.01 265.77 672.71 266.93 672.45 268.09 672.22 269.25 672.02 270.41 671.85 271.57 671.70 272.73 671.58 273.89 671.47 275.06 671.39 276.22 671.31 277.38 671.26 278.54 671.21 279.70 671.18 280.86 671.15 282.02 671.14 283.19 671.13 284.35 671.12 285.51 671.13 286.67 671.13 287.83 671.14 288.99 671.14 290.15 671.15 291.31 671.17 292.48 671.18 293.64 671.19 294.80 671.20 295.96 671.21 297.12 671.22 298.28 671.23 299.44 671.24 300.61 671.24 301.77 671.25 302.93 671.25 304.09 671.25 305.25 671.25 306.41 671.24 307.57 671.23 308.73 671.22 309.90 671.20 311.06 671.19 312.22 671.17 313.38 671.15 314.80 671.13 316.22 671.10 317.65 671.08 319.07 671.05 320.49 671.03 321.91 671.01 323.33 670.99 324.76 670.97 326.18 670.96 327.60 670.95 329.02 670.95 330.44 670.95 331.87 670.95 333.29 670.95 334.71 670.95 336.13 670.95 337.55 670.95 338.98 670.95 340.40 670.95 341.82 670.95 343.24 670.95 344.66 670.95 346.09 670.95 347.51 670.95 348.93 670.95 350.35 670.95 351.78 670.95 353.20 670.95 354.62 670.95 356.04 670.95 357.46 670.95 358.89 670.95 360.31 670.95 361.73 670.95 363.15 670.95 364.57 670.95 366.00 670.92 367.42 670.86 368.84 670.78 370.26 670.70 371.68 670.61 373.11 670.54 374.53 670.48 375.95 670.41 377.37 670.35 378.79 670.28 380.22 670.22 381.64 670.15 383.06 667.65 383.06 667.58 381.64 667.52 380.22 667.45 378.79 667.39 377.37 667.32 375.95 667.26 374.53 667.19 373.11 667.10 371.68 667.02 370.26 666.94 368.84 666.88 367.42 666.85 366.00 666.85 364.57 666.85 363.15 666.85 361.73 666.85 360.31 666.85 358.89 666.85 357.46 666.85 356.04 666.85 354.62 666.85 353.20 666.85 351.78 666.85 350.35 666.85 348.93 666.85 347.51 666.85 346.09 666.85 344.66 666.85 343.24 666.85 341.82 666.85 340.40 666.85 338.98 666.85 337.55 666.85 336.13 666.85 334.71 666.85 333.29 666.85 331.87 666.85 330.44 666.85 329.02 666.84 327.60 666.83 326.18 666.81 324.76 666.79 323.33 666.77 321.91 666.75 320.49 666.72 319.07 666.70 317.65 666.67 316.22 666.65 314.80 666.63 313.38 666.61 312.22 666.60 311.06 666.58 309.90 666.57 308.73 666.56 307.57 666.55 306.41 666.55 305.25 666.55 304.09 666.55 302.93 666.56 301.77 666.56 300.61 666.57 299.44 666.58 298.28 666.59 297.12 666.60 295.96 666.61 294.80 666.62 293.64 666.63 292.48 666.65 291.31 666.66 290.15 666.66 288.99 666.67 287.83 666.67 286.67 666.68 285.51 666.67 284.35 666.66 283.19 666.65 282.02 666.62 280.86 666.59 279.70 666.54 278.54 666.49 277.38 666.41 276.22 666.33 275.06 666.22 273.89 666.10 272.73 665.95 271.57 665.78 270.41 665.58 269.25 665.35 268.09 665.09 266.93 664.79 265.77 664.47 264.60 664.11 263.44 663.72 262.28 663.30 261.12 662.86 259.96 662.40 258.80 661.92 257.64 661.43 256.47 660.94 255.31 660.47 254.15 660.00 252.99 659.57 251.83 659.17 250.67 658.81 249.51 658.51 248.35 658.26 247.18 658.09 246.02 657.98 244.86 657.94 243.70Z" fill="#b9b9b9"/>
<line x1="668.90" y1="287.77" x2="668.90" y2="348.22" stroke="#2a2a2a" stroke-width="2.0"/>
<rect x="667.00" y="347.42" width="3.8" height="1.6" rx="0.6" fill="#111"/>
<rect x="667.85" y="243.70" width="2.1" height="44.07" fill="#000"/>
<rect x="666.90" y="243.15" width="4.0" height="1.5" rx="0.7" fill="#000"/>
<circle cx="668.90" cy="356.93" r="1.15" fill="#000"/>
<circle cx="668.90" cy="365.64" r="1.15" fill="#000"/>
<circle cx="668.90" cy="383.06" r="1.15" fill="#000"/>
<path d="M714.73 243.70 714.68 244.86 714.53 246.02 714.29 247.18 713.95 248.35 713.54 249.51 713.07 250.67 712.53 251.83 711.96 252.99 711.35 254.15 710.73 255.31 710.11 256.47 709.50 257.64 708.90 258.80 708.34 259.96 707.80 261.12 707.31 262.28 706.86 263.44 706.46 264.60 706.10 265.77 705.78 266.93 705.51 268.09 705.27 269.25 705.07 270.41 704.91 271.57 704.77 272.73 704.66 273.89 704.57 275.06 704.49 276.22 704.43 277.38 704.39 278.54 704.36 279.70 704.34 280.86 704.33 282.02 704.33 283.19 704.33 284.35 704.34 285.51 704.35 286.67 704.37 287.83 704.39 288.99 704.40 290.15 704.42 291.31 704.43 292.48 704.44 293.64 704.45 294.80 704.45 295.96 704.45 297.12 704.43 298.28 704.41 299.44 704.38 300.61 704.35 301.77 704.31 302.93 704.27 304.09 704.23 305.25 704.19 306.41 704.15 307.57 704.12 308.73 704.09 309.90 704.07 311.06 704.06 312.22 704.05 313.38 704.06 314.80 704.07 316.22 704.10 317.65 704.13 319.07 704.16 320.49 704.20 321.91 704.23 323.33 704.27 324.76 704.30 326.18 704.32 327.60 704.34 329.02 704.35 330.44 704.35 331.87 704.35 333.29 704.35 334.71 704.35 336.13 704.35 337.55 704.35 338.98 704.35 340.40 704.35 341.82 704.35 343.24 704.35 344.66 704.35 346.09 704.35 347.51 704.35 348.93 704.32 350.35 704.27 351.78 704.21 353.20 704.15 354.62 704.09 356.04 704.03 357.46 703.97 358.89 703.92 360.31 703.85 361.73 703.79 363.15 703.73 364.57 703.67 366.00 703.60 367.42 703.55 368.84 703.49 370.26 703.44 371.68 703.39 373.11 703.34 374.53 703.31 375.95 703.27 377.37 703.24 378.79 703.21 380.22 703.18 381.64 703.15 383.06 700.65 383.06 700.62 381.64 700.59 380.22 700.56 378.79 700.53 377.37 700.49 375.95 700.46 374.53 700.41 373.11 700.36 371.68 700.31 370.26 700.25 368.84 700.20 367.42 700.13 366.00 700.07 364.57 700.01 363.15 699.95 361.73 699.88 360.31 699.83 358.89 699.77 357.46 699.71 356.04 699.65 354.62 699.59 353.20 699.53 351.78 699.48 350.35 699.45 348.93 699.45 347.51 699.45 346.09 699.45 344.66 699.45 343.24 699.45 341.82 699.45 340.40 699.45 338.98 699.45 337.55 699.45 336.13 699.45 334.71 699.45 333.29 699.45 331.87 699.45 330.44 699.46 329.02 699.48 327.60 699.50 326.18 699.53 324.76 699.57 323.33 699.60 321.91 699.64 320.49 699.67 319.07 699.70 317.65 699.73 316.22 699.74 314.80 699.75 313.38 699.74 312.22 699.73 311.06 699.71 309.90 699.68 308.73 699.65 307.57 699.61 306.41 699.57 305.25 699.53 304.09 699.49 302.93 699.45 301.77 699.42 300.61 699.39 299.44 699.37 298.28 699.35 297.12 699.35 295.96 699.35 294.80 699.36 293.64 699.37 292.48 699.38 291.31 699.40 290.15 699.41 288.99 699.43 287.83 699.45 286.67 699.46 285.51 699.47 284.35 699.47 283.19 699.47 282.02 699.46 280.86 699.44 279.70 699.41 278.54 699.37 277.38 699.31 276.22 699.23 275.06 699.14 273.89 699.03 272.73 698.89 271.57 698.73 270.41 698.53 269.25 698.29 268.09 698.02 266.93 697.70 265.77 697.34 264.60 696.94 263.44 696.49 262.28 696.00 261.12 695.46 259.96 694.90 258.80 694.30 257.64 693.69 256.47 693.07 255.31 692.45 254.15 691.84 252.99 691.27 251.83 690.73 250.67 690.26 249.51 689.85 248.35 689.51 247.18 689.27 246.02 689.12 244.86 689.07 243.70Z" fill="#b9b9b9"/>
<line x1="701.90" y1="281.33" x2="701.90" y2="322.61" stroke="#2a2a2a" stroke-width="2.0"/>
<rect x="700.00" y="321.81" width="3.8" height="1.6" rx="0.6" fill="#111"/>
<rect x="700.85" y="243.70" width="2.1" height="37.63" fill="#000"/>
<rect x="699.90" y="243.15" width="4.0" height="1.5" rx="0.7" fill="#000"/>
<circle cx="701.90" cy="339.51" r="1.15" fill="#000"/>
<circle cx="701.90" cy="348.22" r="1.15" fill="#000"/>
<circle cx="701.90" cy="356.93" r="1.15" fill="#000"/>
<circle cx="701.90" cy="383.06" r="1.15" fill="#000"/>
<path d="M748.80 243.70 748.74 244.86 748.55 246.02 748.25 247.18 747.84 248.35 747.34 249.51 746.76 250.67 746.12 251.83 745.44 252.99 744.73 254.15 744.02 255.31 743.31 256.47 742.63 257.64 741.98 258.80 741.37 259.96 740.81 261.12 740.31 262.28 739.86 263.44 739.47 264.60 739.13 265.77 738.84 266.93 738.59 268.09 738.39 269.25 738.23 270.41 738.11 271.57 738.02 272.73 737.97 273.89 737.94 275.06 737.92 276.22 737.91 277.38 737.91 278.54 737.90 279.70 737.88 280.86 737.86 282.02 737.82 283.19 737.76 284.35 737.71 285.51 737.64 286.67 737.57 287.83 737.50 288.99 737.43 290.15 737.36 291.31 737.29 292.48 737.23 293.64 737.19 294.80 737.15 295.96 737.12 297.12 737.09 298.28 737.06 299.44 737.03 300.61 737.01 301.77 736.98 302.93 736.96 304.09 736.93 305.25 736.91 306.41 736.90 307.57 736.88 308.73 736.87 309.90 736.86 311.06 736.85 312.22 736.85 313.38 736.85 314.80 736.87 316.22 736.89 317.65 736.91 319.07 736.93 320.49 736.96 321.91 736.99 323.33 737.01 324.76 737.04 326.18 737.05 327.60 737.07 329.02 737.08 330.44 737.10 331.87 737.11 333.29 737.13 334.71 737.14 336.13 737.15 337.55 737.15 338.98 737.15 340.40 737.15 341.82 737.14 343.24 737.13 344.66 737.12 346.09 737.10 347.51 737.09 348.93 737.07 350.35 737.05 351.78 737.01 353.20 736.96 354.62 736.89 356.04 736.81 357.46 736.73 358.89 736.65 360.31 736.59 361.73 736.52 363.15 736.45 364.57 736.38 366.00 736.32 367.42 736.26 368.84 736.21 370.26 736.16 371.68 736.12 373.11 736.08 374.53 736.05 375.95 736.03 377.37 736.01 378.79 735.99 380.22 735.97 381.64 735.95 383.06 733.85 383.06 733.83 381.64 733.81 380.22 733.79 378.79 733.77 377.37 733.75 375.95 733.72 374.53 733.68 373.11 733.64 371.68 733.59 370.26 733.54 368.84 733.48 367.42 733.42 366.00 733.35 364.57 733.28 363.15 733.21 361.73 733.15 360.31 733.07 358.89 732.99 357.46 732.91 356.04 732.84 354.62 732.79 353.20 732.75 351.78 732.73 350.35 732.71 348.93 732.70 347.51 732.68 346.09 732.67 344.66 732.66 343.24 732.65 341.82 732.65 340.40 732.65 338.98 732.65 337.55 732.66 336.13 732.67 334.71 732.69 333.29 732.70 331.87 732.72 330.44 732.73 329.02 732.75 327.60 732.76 326.18 732.79 324.76 732.81 323.33 732.84 321.91 732.87 320.49 732.89 319.07 732.91 317.65 732.93 316.22 732.95 314.80 732.95 313.38 732.95 312.22 732.94 311.06 732.93 309.90 732.92 308.73 732.90 307.57 732.89 306.41 732.87 305.25 732.84 304.09 732.82 302.93 732.79 301.77 732.77 300.61 732.74 299.44 732.71 298.28 732.68 297.12 732.65 295.96 732.61 294.80 732.57 293.64 732.51 292.48 732.44 291.31 732.37 290.15 732.30 288.99 732.23 287.83 732.16 286.67 732.09 285.51 732.04 284.35 731.98 283.19 731.94 282.02 731.92 280.86 731.90 279.70 731.89 278.54 731.89 277.38 731.88 276.22 731.86 275.06 731.83 273.89 731.78 272.73 731.69 271.57 731.57 270.41 731.41 269.25 731.21 268.09 730.96 266.93 730.67 265.77 730.33 264.60 729.94 263.44 729.49 262.28 728.99 261.12 728.43 259.96 727.82 258.80 727.17 257.64 726.49 256.47 725.78 255.31 725.07 254.15 724.36 252.99 723.68 251.83 723.04 250.67 722.46 249.51 721.96 248.35 721.55 247.18 721.25 246.02 721.06 244.86 721.00 243.70Z" fill="#b9b9b9"/>
<line x1="734.90" y1="278.54" x2="734.90" y2="322.61" stroke="#2a2a2a" stroke-width="2.0"/>
<rect x="733.00" y="321.81" width="3.8" height="1.6" rx="0.6" fill="#111"/>
<rect x="733.85" y="243.70" width="2.1" height="34.84" fill="#000"/>
<rect x="732.90" y="243.15" width="4.0" height="1.5" rx="0.7" fill="#000"/>
<circle cx="734.90" cy="330.80" r="1.15" fill="#000"/>
<circle cx="734.90" cy="339.51" r="1.15" fill="#000"/>
<circle cx="734.90" cy="348.22" r="1.15" fill="#000"/>
<circle cx="734.90" cy="356.93" r="1.15" fill="#000"/>
<circle cx="734.90" cy="383.06" r="1.15" fill="#000"/>
<path d="M781.90 243.70 781.84 244.86 781.65 246.02 781.35 247.18 780.94 248.35 780.43 249.51 779.85 250.67 779.20 251.83 778.51 252.99 777.80 254.15 777.08 255.31 776.36 256.47 775.67 257.64 775.02 258.80 774.40 259.96 773.84 261.12 773.33 262.28 772.88 263.44 772.48 264.60 772.14 265.77 771.85 266.93 771.60 268.09 771.40 269.25 771.23 270.41 771.11 271.57 771.03 272.73 770.97 273.89 770.94 275.06 770.92 276.22 770.91 277.38 770.91 278.54 770.90 279.70 770.88 280.86 770.86 282.02 770.82 283.19 770.76 284.35 770.71 285.51 770.64 286.67 770.57 287.83 770.50 288.99 770.43 290.15 770.36 291.31 770.29 292.48 770.23 293.64 770.19 294.80 770.15 295.96 770.12 297.12 770.09 298.28 770.06 299.44 770.03 300.61 770.01 301.77 769.98 302.93 769.96 304.09 769.93 305.25 769.91 306.41 769.90 307.57 769.88 308.73 769.87 309.90 769.86 311.06 769.85 312.22 769.85 313.38 769.85 314.80 769.87 316.22 769.89 317.65 769.91 319.07 769.93 320.49 769.96 321.91 769.99 323.33 770.01 324.76 770.04 326.18 770.05 327.60 770.07 329.02 770.08 330.44 770.10 331.87 770.11 333.29 770.13 334.71 770.14 336.13 770.15 337.55 770.15 338.98 770.15 340.40 770.15 341.82 770.14 343.24 770.13 344.66 770.12 346.09 770.10 347.51 770.09 348.93 770.07 350.35 770.05 351.78 770.01 353.20 769.96 354.62 769.89 356.04 769.81 357.46 769.73 358.89 769.65 360.31 769.59 361.73 769.52 363.15 769.45 364.57 769.38 366.00 769.32 367.42 769.26 368.84 769.21 370.26 769.16 371.68 769.12 373.11 769.08 374.53 769.05 375.95 769.03 377.37 769.01 378.79 768.99 380.22 768.97 381.64 768.95 383.06 766.85 383.06 766.83 381.64 766.81 380.22 766.79 378.79 766.77 377.37 766.75 375.95 766.72 374.53 766.68 373.11 766.64 371.68 766.59 370.26 766.54 368.84 766.48 367.42 766.42 366.00 766.35 364.57 766.28 363.15 766.21 361.73 766.15 360.31 766.07 358.89 765.99 357.46 765.91 356.04 765.84 354.62 765.79 353.20 765.75 351.78 765.73 350.35 765.71 348.93 765.70 347.51 765.68 346.09 765.67 344.66 765.66 343.24 765.65 341.82 765.65 340.40 765.65 338.98 765.65 337.55 765.66 336.13 765.67 334.71 765.69 333.29 765.70 331.87 765.72 330.44 765.73 329.02 765.75 327.60 765.76 326.18 765.79 324.76 765.81 323.33 765.84 321.91 765.87 320.49 765.89 319.07 765.91 317.65 765.93 316.22 765.95 314.80 765.95 313.38 765.95 312.22 765.94 311.06 765.93 309.90 765.92 308.73 765.90 307.57 765.89 306.41 765.87 305.25 765.84 304.09 765.82 302.93 765.79 301.77 765.77 300.61 765.74 299.44 765.71 298.28 765.68 297.12 765.65 295.96 765.61 294.80 765.57 293.64 765.51 292.48 765.44 291.31 765.37 290.15 765.30 288.99 765.23 287.83 765.16 286.67 765.09 285.51 765.04 284.35 764.98 283.19 764.94 282.02 764.92 280.86 764.90 279.70 764.89 278.54 764.89 277.38 764.88 276.22 764.86 275.06 764.83 273.89 764.77 272.73 764.69 271.57 764.57 270.41 764.40 269.25 764.20 268.09 763.95 266.93 763.66 265.77 763.32 264.60 762.92 263.44 762.47 262.28 761.96 261.12 761.40 259.96 760.78 258.80 760.13 257.64 759.44 256.47 758.72 255.31 758.00 254.15 757.29 252.99 756.60 251.83 755.95 250.67 755.37 249.51 754.86 248.35 754.45 247.18 754.15 246.02 753.96 244.86 753.90 243.70Z" fill="#b9b9b9"/>
<line x1="767.90" y1="278.54" x2="767.90" y2="322.61" stroke="#2a2a2a" stroke-width="2.0"/>
<rect x="766.00" y="321.81" width="3.8" height="1.6" rx="0.6" fill="#111"/>
<rect x="766.85" y="243.70" width="2.1" height="34.84" fill="#000"/>
<rect x="765.90" y="243.15" width="4.0" height="1.5" rx="0.7" fill="#000"/>
<circle cx="767.90" cy="330.80" r="1.15" fill="#000"/>
<circle cx="767.90" cy="339.51" r="1.15" fill="#000"/>
<circle cx="767.90" cy="348.22" r="1.15" fill="#000"/>
<circle cx="767.90" cy="356.93" r="1.15" fill="#000"/>
<circle cx="767.90" cy="383.06" r="1.15" fill="#000"/>
<line x1="448.30" y1="649.40" x2="451.30" y2="649.40" stroke="#333333" stroke-width="1.6"/>
<text transform="translate(441.07,651.90) scale(1,1.040)" class="tk">0</text>
<line x1="448.30" y1="605.85" x2="451.30" y2="605.85" stroke="#333333" stroke-width="1.6"/>
<text transform="translate(425.50,608.35) scale(1,1.040)" class="tk">0.25</text>
<line x1="448.30" y1="562.30" x2="451.30" y2="562.30" stroke="#333333" stroke-width="1.6"/>
<text transform="translate(425.50,564.80) scale(1,1.040)" class="tk">0.50</text>
<line x1="448.30" y1="518.75" x2="451.30" y2="518.75" stroke="#333333" stroke-width="1.6"/>
<text transform="translate(425.50,521.25) scale(1,1.040)" class="tk">0.75</text>
<line x1="448.30" y1="475.20" x2="451.30" y2="475.20" stroke="#333333" stroke-width="1.6"/>
<text transform="translate(441.07,477.70) scale(1,1.040)" class="tk"> </text><path transform="translate(441.07,477.70) scale(0.00547,-0.00547)" d="M763,0L583,0L583,1147Q518,1085 412,1023Q306,961 221,930L221,1104Q374,1176 488,1278Q602,1380 649,1476L763,1476Z" fill="#4d4d4d"/>
<line x1="470.90" y1="658.31" x2="470.90" y2="661.31" stroke="#333333" stroke-width="1.3"/>
<text transform="translate(467.79,672.11) scale(1,1.040)" class="tk"> </text><path transform="translate(467.79,672.11) scale(0.00547,-0.00547)" d="M763,0L583,0L583,1147Q518,1085 412,1023Q306,961 221,930L221,1104Q374,1176 488,1278Q602,1380 649,1476L763,1476Z" fill="#4d4d4d"/>
<line x1="503.90" y1="658.31" x2="503.90" y2="661.31" stroke="#333333" stroke-width="1.3"/>
<text transform="translate(500.79,672.11) scale(1,1.040)" class="tk">2</text>
<line x1="536.90" y1="658.31" x2="536.90" y2="661.31" stroke="#333333" stroke-width="1.3"/>
<text transform="translate(533.79,672.11) scale(1,1.040)" class="tk">3</text>
<line x1="569.90" y1="658.31" x2="569.90" y2="661.31" stroke="#333333" stroke-width="1.3"/>
<text transform="translate(566.79,672.11) scale(1,1.040)" class="tk">4</text>
<line x1="602.90" y1="658.31" x2="602.90" y2="661.31" stroke="#333333" stroke-width="1.3"/>
<text transform="translate(599.79,672.11) scale(1,1.040)" class="tk">5</text>
<line x1="635.90" y1="658.31" x2="635.90" y2="661.31" stroke="#333333" stroke-width="1.3"/>
<text transform="translate(632.79,672.11) scale(1,1.040)" class="tk">6</text>
<line x1="668.90" y1="658.31" x2="668.90" y2="661.31" stroke="#333333" stroke-width="1.3"/>
<text transform="translate(665.79,672.11) scale(1,1.040)" class="tk">7</text>
<line x1="701.90" y1="658.31" x2="701.90" y2="661.31" stroke="#333333" stroke-width="1.3"/>
<text transform="translate(698.79,672.11) scale(1,1.040)" class="tk">8</text>
<line x1="734.90" y1="658.31" x2="734.90" y2="661.31" stroke="#333333" stroke-width="1.3"/>
<text transform="translate(731.79,672.11) scale(1,1.040)" class="tk">9</text>
<line x1="767.90" y1="658.31" x2="767.90" y2="661.31" stroke="#333333" stroke-width="1.3"/>
<text transform="translate(761.67,672.11) scale(1,1.040)" class="tk"> 0</text><path transform="translate(761.67,672.11) scale(0.00547,-0.00547)" d="M763,0L583,0L583,1147Q518,1085 412,1023Q306,961 221,930L221,1104Q374,1176 488,1278Q602,1380 649,1476L763,1476Z" fill="#4d4d4d"/>
<path d="M451.30,466.79 L451.30,658.31 L788.00,658.31" fill="none" stroke="#141414" stroke-width="1.7" stroke-linejoin="miter" stroke-linecap="butt"/>
<path d="M475.85 475.20 475.85 476.36 475.83 477.52 475.81 478.68 475.78 479.85 475.74 481.01 475.70 482.17 475.64 483.33 475.58 484.49 475.52 485.65 475.44 486.81 475.36 487.97 475.28 489.14 475.20 490.30 475.11 491.46 475.01 492.62 474.92 493.78 474.82 494.94 474.73 496.10 474.63 497.27 474.54 498.43 474.44 499.59 474.35 500.75 474.26 501.91 474.17 503.07 474.09 504.23 474.00 505.39 473.93 506.56 473.85 507.72 473.78 508.88 473.71 510.04 473.65 511.20 473.59 512.36 473.53 513.52 473.48 514.69 473.43 515.85 473.39 517.01 473.34 518.17 473.31 519.33 473.27 520.49 473.24 521.65 473.21 522.81 473.19 523.98 473.16 525.14 473.14 526.30 473.13 527.46 473.11 528.62 473.10 529.78 473.10 530.94 473.10 532.11 473.10 533.27 473.11 534.43 473.12 535.59 473.13 536.75 473.14 537.91 473.16 539.07 473.18 540.23 473.19 541.40 473.21 542.56 473.23 543.72 473.25 544.88 473.29 547.01 473.32 549.15 473.35 551.28 473.39 553.41 473.43 555.55 473.47 557.68 473.51 559.81 473.55 561.94 473.59 564.08 473.63 566.21 473.67 568.34 473.71 570.48 473.75 572.61 473.79 574.74 473.82 576.88 473.85 579.01 473.87 581.14 473.89 583.28 473.90 585.41 473.92 587.54 473.93 589.67 473.94 591.81 473.95 593.94 473.96 596.07 473.97 598.21 473.98 600.34 473.99 602.47 473.99 604.61 474.00 606.74 474.00 608.87 474.00 611.00 474.00 613.14 473.99 615.27 473.98 617.40 473.97 619.54 473.95 621.67 473.93 623.80 473.91 625.94 473.88 628.07 473.85 630.20 473.82 632.34 473.78 634.47 473.74 636.60 473.70 638.73 473.64 640.87 473.55 643.00 473.43 645.13 473.31 647.27 473.20 649.40 468.60 649.40 468.49 647.27 468.37 645.13 468.25 643.00 468.16 640.87 468.10 638.73 468.06 636.60 468.02 634.47 467.98 632.34 467.95 630.20 467.92 628.07 467.89 625.94 467.87 623.80 467.85 621.67 467.83 619.54 467.82 617.40 467.81 615.27 467.80 613.14 467.80 611.00 467.80 608.87 467.80 606.74 467.81 604.61 467.81 602.47 467.82 600.34 467.83 598.21 467.84 596.07 467.85 593.94 467.86 591.81 467.87 589.67 467.88 587.54 467.90 585.41 467.91 583.28 467.93 581.14 467.95 579.01 467.98 576.88 468.01 574.74 468.05 572.61 468.09 570.48 468.13 568.34 468.17 566.21 468.21 564.08 468.25 561.94 468.29 559.81 468.33 557.68 468.37 555.55 468.41 553.41 468.45 551.28 468.48 549.15 468.51 547.01 468.55 544.88 468.57 543.72 468.59 542.56 468.61 541.40 468.62 540.23 468.64 539.07 468.66 537.91 468.67 536.75 468.68 535.59 468.69 534.43 468.70 533.27 468.70 532.11 468.70 530.94 468.70 529.78 468.69 528.62 468.67 527.46 468.66 526.30 468.64 525.14 468.61 523.98 468.59 522.81 468.56 521.65 468.53 520.49 468.49 519.33 468.46 518.17 468.41 517.01 468.37 515.85 468.32 514.69 468.27 513.52 468.21 512.36 468.15 511.20 468.09 510.04 468.02 508.88 467.95 507.72 467.87 506.56 467.80 505.39 467.71 504.23 467.63 503.07 467.54 501.91 467.45 500.75 467.36 499.59 467.26 498.43 467.17 497.27 467.07 496.10 466.98 494.94 466.88 493.78 466.79 492.62 466.69 491.46 466.60 490.30 466.52 489.14 466.44 487.97 466.36 486.81 466.28 485.65 466.22 484.49 466.16 483.33 466.10 482.17 466.06 481.01 466.02 479.85 465.99 478.68 465.97 477.52 465.95 476.36 465.95 475.20Z" fill="#b9b9b9"/>
<line x1="470.90" y1="600.10" x2="470.90" y2="649.40" stroke="#2a2a2a" stroke-width="2.0"/>
<rect x="469.00" y="648.60" width="3.8" height="1.6" rx="0.6" fill="#111"/>
<rect x="469.85" y="475.20" width="2.1" height="124.90" fill="#000"/>
<rect x="468.90" y="474.65" width="4.0" height="1.5" rx="0.7" fill="#000"/>
<path d="M508.80 475.20 508.80 476.36 508.78 477.52 508.76 478.68 508.74 479.85 508.70 481.01 508.66 482.17 508.61 483.33 508.56 484.49 508.50 485.65 508.43 486.81 508.36 487.97 508.28 489.14 508.20 490.30 508.12 491.46 508.03 492.62 507.95 493.78 507.86 494.94 507.77 496.10 507.68 497.27 507.59 498.43 507.50 499.59 507.41 500.75 507.32 501.91 507.23 503.07 507.15 504.23 507.07 505.39 506.99 506.56 506.92 507.72 506.85 508.88 506.78 510.04 506.71 511.20 506.65 512.36 506.60 513.52 506.54 514.69 506.49 515.85 506.44 517.01 506.40 518.17 506.36 519.33 506.32 520.49 506.29 521.65 506.26 522.81 506.23 523.98 506.20 525.14 506.18 526.30 506.16 527.46 506.14 528.62 506.13 529.78 506.12 530.94 506.12 532.11 506.12 533.27 506.12 534.43 506.13 535.59 506.14 536.75 506.15 537.91 506.17 539.07 506.19 540.23 506.20 541.40 506.22 542.56 506.24 543.72 506.26 544.88 506.29 547.01 506.32 549.15 506.35 551.28 506.39 553.41 506.43 555.55 506.47 557.68 506.51 559.81 506.55 561.94 506.59 564.08 506.63 566.21 506.67 568.34 506.71 570.48 506.75 572.61 506.79 574.74 506.82 576.88 506.85 579.01 506.87 581.14 506.89 583.28 506.90 585.41 506.92 587.54 506.93 589.67 506.94 591.81 506.95 593.94 506.96 596.07 506.97 598.21 506.98 600.34 506.99 602.47 506.99 604.61 507.00 606.74 507.00 608.87 507.00 611.00 507.00 613.14 506.99 615.27 506.98 617.40 506.97 619.54 506.95 621.67 506.93 623.80 506.91 625.94 506.88 628.07 506.85 630.20 506.82 632.34 506.78 634.47 506.74 636.60 506.70 638.73 506.64 640.87 506.55 643.00 506.43 645.13 506.31 647.27 506.20 649.40 501.60 649.40 501.49 647.27 501.37 645.13 501.25 643.00 501.16 640.87 501.10 638.73 501.06 636.60 501.02 634.47 500.98 632.34 500.95 630.20 500.92 628.07 500.89 625.94 500.87 623.80 500.85 621.67 500.83 619.54 500.82 617.40 500.81 615.27 500.80 613.14 500.80 611.00 500.80 608.87 500.80 606.74 500.81 604.61 500.81 602.47 500.82 600.34 500.83 598.21 500.84 596.07 500.85 593.94 500.86 591.81 500.87 589.67 500.88 587.54 500.90 585.41 500.91 583.28 500.93 581.14 500.95 579.01 500.98 576.88 501.01 574.74 501.05 572.61 501.09 570.48 501.13 568.34 501.17 566.21 501.21 564.08 501.25 561.94 501.29 559.81 501.33 557.68 501.37 555.55 501.41 553.41 501.45 551.28 501.48 549.15 501.51 547.01 501.54 544.88 501.56 543.72 501.58 542.56 501.60 541.40 501.61 540.23 501.63 539.07 501.65 537.91 501.66 536.75 501.67 535.59 501.68 534.43 501.68 533.27 501.68 532.11 501.68 530.94 501.67 529.78 501.66 528.62 501.64 527.46 501.62 526.30 501.60 525.14 501.57 523.98 501.54 522.81 501.51 521.65 501.48 520.49 501.44 519.33 501.40 518.17 501.36 517.01 501.31 515.85 501.26 514.69 501.20 513.52 501.15 512.36 501.09 511.20 501.02 510.04 500.95 508.88 500.88 507.72 500.81 506.56 500.73 505.39 500.65 504.23 500.57 503.07 500.48 501.91 500.39 500.75 500.30 499.59 500.21 498.43 500.12 497.27 500.03 496.10 499.94 494.94 499.85 493.78 499.77 492.62 499.68 491.46 499.60 490.30 499.52 489.14 499.44 487.97 499.37 486.81 499.30 485.65 499.24 484.49 499.19 483.33 499.14 482.17 499.10 481.01 499.06 479.85 499.04 478.68 499.02 477.52 499.00 476.36 499.00 475.20Z" fill="#b9b9b9"/>
<line x1="503.90" y1="582.68" x2="503.90" y2="649.40" stroke="#2a2a2a" stroke-width="2.0"/>
<rect x="502.00" y="648.60" width="3.8" height="1.6" rx="0.6" fill="#111"/>
<rect x="502.85" y="475.20" width="2.1" height="107.48" fill="#000"/>
<rect x="501.90" y="474.65" width="4.0" height="1.5" rx="0.7" fill="#000"/>
<path d="M542.86 475.20 542.85 476.36 542.84 477.52 542.80 478.68 542.76 479.85 542.71 481.01 542.64 482.17 542.56 483.33 542.48 484.49 542.38 485.65 542.28 486.81 542.17 487.97 542.06 489.14 541.93 490.30 541.81 491.46 541.68 492.62 541.55 493.78 541.41 494.94 541.28 496.10 541.15 497.27 541.02 498.43 540.89 499.59 540.76 500.75 540.64 501.91 540.52 503.07 540.40 504.23 540.29 505.39 540.18 506.56 540.08 507.72 539.99 508.88 539.90 510.04 539.81 511.20 539.73 512.36 539.66 513.52 539.59 514.69 539.53 515.85 539.47 517.01 539.42 518.17 539.37 519.33 539.33 520.49 539.29 521.65 539.25 522.81 539.22 523.98 539.19 525.14 539.17 526.30 539.14 527.46 539.12 528.62 539.11 529.78 539.09 530.94 539.08 532.11 539.07 533.27 539.06 534.43 539.05 535.59 539.04 536.75 539.03 537.91 539.03 539.07 539.02 540.23 539.02 541.40 539.02 542.56 539.01 543.72 539.01 544.88 539.01 547.01 539.01 549.15 539.00 551.28 539.00 553.41 539.00 555.55 539.00 557.68 539.00 559.81 539.00 561.94 539.00 564.08 539.00 566.21 539.00 568.34 539.00 570.48 539.00 572.61 539.00 574.74 539.00 576.88 539.00 579.01 539.00 581.14 539.00 583.28 539.00 585.41 539.00 587.54 539.00 589.67 539.00 591.81 539.00 593.94 539.00 596.07 539.00 598.21 539.00 600.34 539.01 602.47 539.01 604.61 539.02 606.74 539.03 608.87 539.03 611.00 539.04 613.14 539.05 615.27 539.06 617.40 539.07 619.54 539.08 621.67 539.09 623.80 539.09 625.94 539.10 628.07 539.10 630.20 539.10 632.34 539.09 634.47 539.08 636.60 539.05 638.73 539.01 640.87 538.97 643.00 538.92 645.13 538.84 647.27 538.70 649.40 535.10 649.40 534.96 647.27 534.88 645.13 534.83 643.00 534.79 640.87 534.75 638.73 534.72 636.60 534.71 634.47 534.70 632.34 534.70 630.20 534.70 628.07 534.71 625.94 534.71 623.80 534.72 621.67 534.73 619.54 534.74 617.40 534.75 615.27 534.76 613.14 534.77 611.00 534.77 608.87 534.78 606.74 534.79 604.61 534.79 602.47 534.80 600.34 534.80 598.21 534.80 596.07 534.80 593.94 534.80 591.81 534.80 589.67 534.80 587.54 534.80 585.41 534.80 583.28 534.80 581.14 534.80 579.01 534.80 576.88 534.80 574.74 534.80 572.61 534.80 570.48 534.80 568.34 534.80 566.21 534.80 564.08 534.80 561.94 534.80 559.81 534.80 557.68 534.80 555.55 534.80 553.41 534.80 551.28 534.79 549.15 534.79 547.01 534.79 544.88 534.79 543.72 534.78 542.56 534.78 541.40 534.78 540.23 534.77 539.07 534.77 537.91 534.76 536.75 534.75 535.59 534.74 534.43 534.73 533.27 534.72 532.11 534.71 530.94 534.69 529.78 534.68 528.62 534.66 527.46 534.63 526.30 534.61 525.14 534.58 523.98 534.55 522.81 534.51 521.65 534.47 520.49 534.43 519.33 534.38 518.17 534.33 517.01 534.27 515.85 534.21 514.69 534.14 513.52 534.07 512.36 533.99 511.20 533.90 510.04 533.81 508.88 533.72 507.72 533.62 506.56 533.51 505.39 533.40 504.23 533.28 503.07 533.16 501.91 533.04 500.75 532.91 499.59 532.78 498.43 532.65 497.27 532.52 496.10 532.39 494.94 532.25 493.78 532.12 492.62 531.99 491.46 531.87 490.30 531.74 489.14 531.63 487.97 531.52 486.81 531.42 485.65 531.32 484.49 531.24 483.33 531.16 482.17 531.09 481.01 531.04 479.85 531.00 478.68 530.96 477.52 530.95 476.36 530.94 475.20Z" fill="#b9b9b9"/>
<line x1="536.90" y1="573.62" x2="536.90" y2="649.40" stroke="#2a2a2a" stroke-width="2.0"/>
<rect x="535.00" y="648.60" width="3.8" height="1.6" rx="0.6" fill="#111"/>
<rect x="535.85" y="475.20" width="2.1" height="98.42" fill="#000"/>
<rect x="534.90" y="474.65" width="4.0" height="1.5" rx="0.7" fill="#000"/>
<path d="M575.96 475.20 575.95 476.36 575.94 477.52 575.91 478.68 575.86 479.85 575.81 481.01 575.75 482.17 575.67 483.33 575.59 484.49 575.49 485.65 575.39 486.81 575.29 487.97 575.17 489.14 575.05 490.30 574.93 491.46 574.80 492.62 574.67 493.78 574.54 494.94 574.40 496.10 574.27 497.27 574.14 498.43 574.01 499.59 573.88 500.75 573.75 501.91 573.63 503.07 573.51 504.23 573.40 505.39 573.29 506.56 573.18 507.72 573.08 508.88 572.99 510.04 572.90 511.20 572.82 512.36 572.74 513.52 572.67 514.69 572.60 515.85 572.54 517.01 572.48 518.17 572.43 519.33 572.38 520.49 572.34 521.65 572.30 522.81 572.26 523.98 572.23 525.14 572.20 526.30 572.17 527.46 572.15 528.62 572.13 529.78 572.11 530.94 572.10 532.11 572.08 533.27 572.07 534.43 572.06 535.59 572.05 536.75 572.04 537.91 572.04 539.07 572.03 540.23 572.03 541.40 572.02 542.56 572.02 543.72 572.02 544.88 572.01 547.01 572.01 549.15 572.01 551.28 572.00 553.41 572.00 555.55 572.00 557.68 572.00 559.81 572.00 561.94 572.00 564.08 572.00 566.21 572.00 568.34 572.00 570.48 572.00 572.61 572.00 574.74 572.00 576.88 572.00 579.01 572.00 581.14 572.00 583.28 572.00 585.41 572.00 587.54 572.00 589.67 572.00 591.81 572.00 593.94 572.00 596.07 572.00 598.21 572.00 600.34 572.01 602.47 572.01 604.61 572.02 606.74 572.03 608.87 572.03 611.00 572.04 613.14 572.05 615.27 572.06 617.40 572.07 619.54 572.08 621.67 572.09 623.80 572.09 625.94 572.10 628.07 572.10 630.20 572.10 632.34 572.09 634.47 572.08 636.60 572.05 638.73 572.01 640.87 571.97 643.00 571.92 645.13 571.84 647.27 571.70 649.40 568.10 649.40 567.96 647.27 567.88 645.13 567.83 643.00 567.79 640.87 567.75 638.73 567.72 636.60 567.71 634.47 567.70 632.34 567.70 630.20 567.70 628.07 567.71 625.94 567.71 623.80 567.72 621.67 567.73 619.54 567.74 617.40 567.75 615.27 567.76 613.14 567.77 611.00 567.77 608.87 567.78 606.74 567.79 604.61 567.79 602.47 567.80 600.34 567.80 598.21 567.80 596.07 567.80 593.94 567.80 591.81 567.80 589.67 567.80 587.54 567.80 585.41 567.80 583.28 567.80 581.14 567.80 579.01 567.80 576.88 567.80 574.74 567.80 572.61 567.80 570.48 567.80 568.34 567.80 566.21 567.80 564.08 567.80 561.94 567.80 559.81 567.80 557.68 567.80 555.55 567.80 553.41 567.79 551.28 567.79 549.15 567.79 547.01 567.78 544.88 567.78 543.72 567.78 542.56 567.77 541.40 567.77 540.23 567.76 539.07 567.76 537.91 567.75 536.75 567.74 535.59 567.73 534.43 567.72 533.27 567.70 532.11 567.69 530.94 567.67 529.78 567.65 528.62 567.63 527.46 567.60 526.30 567.57 525.14 567.54 523.98 567.50 522.81 567.46 521.65 567.42 520.49 567.37 519.33 567.32 518.17 567.26 517.01 567.20 515.85 567.13 514.69 567.06 513.52 566.98 512.36 566.90 511.20 566.81 510.04 566.72 508.88 566.62 507.72 566.51 506.56 566.40 505.39 566.29 504.23 566.17 503.07 566.05 501.91 565.92 500.75 565.79 499.59 565.66 498.43 565.53 497.27 565.40 496.10 565.26 494.94 565.13 493.78 565.00 492.62 564.87 491.46 564.75 490.30 564.63 489.14 564.51 487.97 564.41 486.81 564.31 485.65 564.21 484.49 564.13 483.33 564.05 482.17 563.99 481.01 563.94 479.85 563.89 478.68 563.86 477.52 563.85 476.36 563.84 475.20Z" fill="#b9b9b9"/>
<line x1="569.90" y1="564.91" x2="569.90" y2="649.40" stroke="#2a2a2a" stroke-width="2.0"/>
<rect x="568.00" y="648.60" width="3.8" height="1.6" rx="0.6" fill="#111"/>
<rect x="568.85" y="475.20" width="2.1" height="89.71" fill="#000"/>
<rect x="567.90" y="474.65" width="4.0" height="1.5" rx="0.7" fill="#000"/>
<path d="M609.72 475.20 609.71 476.36 609.67 477.52 609.62 478.68 609.54 479.85 609.44 481.01 609.33 482.17 609.19 483.33 609.05 484.49 608.88 485.65 608.71 486.81 608.53 487.97 608.34 489.14 608.14 490.30 607.94 491.46 607.74 492.62 607.55 493.78 607.35 494.94 607.16 496.10 606.98 497.27 606.80 498.43 606.63 499.59 606.47 500.75 606.32 501.91 606.18 503.07 606.05 504.23 605.92 505.39 605.81 506.56 605.71 507.72 605.62 508.88 605.54 510.04 605.47 511.20 605.40 512.36 605.34 513.52 605.29 514.69 605.25 515.85 605.21 517.01 605.17 518.17 605.15 519.33 605.12 520.49 605.10 521.65 605.08 522.81 605.07 523.98 605.05 525.14 605.04 526.30 605.04 527.46 605.03 528.62 605.02 529.78 605.02 530.94 605.01 532.11 605.01 533.27 605.01 534.43 605.01 535.59 605.01 536.75 605.00 537.91 605.00 539.07 605.00 540.23 605.00 541.40 605.00 542.56 605.00 543.72 605.00 544.88 605.00 547.01 605.00 549.15 605.00 551.28 605.00 553.41 605.00 555.55 605.00 557.68 605.00 559.81 605.00 561.94 605.00 564.08 605.00 566.21 605.00 568.34 605.00 570.48 605.00 572.61 605.00 574.74 605.00 576.88 605.00 579.01 605.00 581.14 605.00 583.28 605.00 585.41 605.00 587.54 605.00 589.67 605.00 591.81 605.00 593.94 605.00 596.07 605.00 598.21 605.00 600.34 605.00 602.47 605.00 604.61 605.00 606.74 605.00 608.87 605.00 611.00 605.00 613.14 605.00 615.27 605.00 617.40 605.00 619.54 605.00 621.67 605.00 623.80 605.00 625.94 605.00 628.07 605.00 630.20 605.00 632.34 604.99 634.47 604.98 636.60 604.95 638.73 604.91 640.87 604.87 643.00 604.82 645.13 604.74 647.27 604.60 649.40 601.20 649.40 601.06 647.27 600.98 645.13 600.93 643.00 600.89 640.87 600.85 638.73 600.82 636.60 600.81 634.47 600.80 632.34 600.80 630.20 600.80 628.07 600.80 625.94 600.80 623.80 600.80 621.67 600.80 619.54 600.80 617.40 600.80 615.27 600.80 613.14 600.80 611.00 600.80 608.87 600.80 606.74 600.80 604.61 600.80 602.47 600.80 600.34 600.80 598.21 600.80 596.07 600.80 593.94 600.80 591.81 600.80 589.67 600.80 587.54 600.80 585.41 600.80 583.28 600.80 581.14 600.80 579.01 600.80 576.88 600.80 574.74 600.80 572.61 600.80 570.48 600.80 568.34 600.80 566.21 600.80 564.08 600.80 561.94 600.80 559.81 600.80 557.68 600.80 555.55 600.80 553.41 600.80 551.28 600.80 549.15 600.80 547.01 600.80 544.88 600.80 543.72 600.80 542.56 600.80 541.40 600.80 540.23 600.80 539.07 600.80 537.91 600.79 536.75 600.79 535.59 600.79 534.43 600.79 533.27 600.79 532.11 600.78 530.94 600.78 529.78 600.77 528.62 600.76 527.46 600.76 526.30 600.75 525.14 600.73 523.98 600.72 522.81 600.70 521.65 600.68 520.49 600.65 519.33 600.63 518.17 600.59 517.01 600.55 515.85 600.51 514.69 600.46 513.52 600.40 512.36 600.33 511.20 600.26 510.04 600.18 508.88 600.09 507.72 599.99 506.56 599.88 505.39 599.75 504.23 599.62 503.07 599.48 501.91 599.33 500.75 599.17 499.59 599.00 498.43 598.82 497.27 598.64 496.10 598.45 494.94 598.25 493.78 598.06 492.62 597.86 491.46 597.66 490.30 597.46 489.14 597.27 487.97 597.09 486.81 596.92 485.65 596.75 484.49 596.61 483.33 596.47 482.17 596.36 481.01 596.26 479.85 596.18 478.68 596.13 477.52 596.09 476.36 596.08 475.20Z" fill="#b9b9b9"/>
<line x1="602.90" y1="545.58" x2="602.90" y2="649.40" stroke="#2a2a2a" stroke-width="2.0"/>
<rect x="601.00" y="648.60" width="3.8" height="1.6" rx="0.6" fill="#111"/>
<rect x="601.85" y="475.20" width="2.1" height="70.38" fill="#000"/>
<rect x="600.90" y="474.65" width="4.0" height="1.5" rx="0.7" fill="#000"/>
<path d="M642.82 475.20 642.81 476.36 642.78 477.52 642.72 478.68 642.65 479.85 642.56 481.01 642.45 482.17 642.32 483.33 642.18 484.49 642.03 485.65 641.86 486.81 641.68 487.97 641.50 489.14 641.31 490.30 641.12 491.46 640.92 492.62 640.73 493.78 640.54 494.94 640.35 496.10 640.16 497.27 639.98 498.43 639.81 499.59 639.64 500.75 639.49 501.91 639.34 503.07 639.20 504.23 639.07 505.39 638.95 506.56 638.84 507.72 638.74 508.88 638.65 510.04 638.57 511.20 638.50 512.36 638.43 513.52 638.37 514.69 638.32 515.85 638.27 517.01 638.23 518.17 638.19 519.33 638.16 520.49 638.14 521.65 638.12 522.81 638.10 523.98 638.08 525.14 638.07 526.30 638.05 527.46 638.04 528.62 638.04 529.78 638.03 530.94 638.02 532.11 638.02 533.27 638.01 534.43 638.01 535.59 638.01 536.75 638.01 537.91 638.01 539.07 638.00 540.23 638.00 541.40 638.00 542.56 638.00 543.72 638.00 544.88 638.00 547.01 638.00 549.15 638.00 551.28 638.00 553.41 638.00 555.55 638.00 557.68 638.00 559.81 638.00 561.94 638.00 564.08 638.00 566.21 638.00 568.34 638.00 570.48 638.00 572.61 638.00 574.74 638.00 576.88 638.00 579.01 638.00 581.14 638.00 583.28 638.00 585.41 638.00 587.54 638.00 589.67 638.00 591.81 638.00 593.94 638.00 596.07 638.00 598.21 638.00 600.34 638.00 602.47 638.00 604.61 638.00 606.74 638.00 608.87 638.00 611.00 638.00 613.14 638.00 615.27 638.00 617.40 638.00 619.54 638.00 621.67 638.00 623.80 638.00 625.94 638.00 628.07 638.00 630.20 638.00 632.34 637.99 634.47 637.98 636.60 637.95 638.73 637.91 640.87 637.87 643.00 637.82 645.13 637.74 647.27 637.60 649.40 634.20 649.40 634.06 647.27 633.98 645.13 633.93 643.00 633.89 640.87 633.85 638.73 633.82 636.60 633.81 634.47 633.80 632.34 633.80 630.20 633.80 628.07 633.80 625.94 633.80 623.80 633.80 621.67 633.80 619.54 633.80 617.40 633.80 615.27 633.80 613.14 633.80 611.00 633.80 608.87 633.80 606.74 633.80 604.61 633.80 602.47 633.80 600.34 633.80 598.21 633.80 596.07 633.80 593.94 633.80 591.81 633.80 589.67 633.80 587.54 633.80 585.41 633.80 583.28 633.80 581.14 633.80 579.01 633.80 576.88 633.80 574.74 633.80 572.61 633.80 570.48 633.80 568.34 633.80 566.21 633.80 564.08 633.80 561.94 633.80 559.81 633.80 557.68 633.80 555.55 633.80 553.41 633.80 551.28 633.80 549.15 633.80 547.01 633.80 544.88 633.80 543.72 633.80 542.56 633.80 541.40 633.80 540.23 633.79 539.07 633.79 537.91 633.79 536.75 633.79 535.59 633.79 534.43 633.78 533.27 633.78 532.11 633.77 530.94 633.76 529.78 633.76 528.62 633.75 527.46 633.73 526.30 633.72 525.14 633.70 523.98 633.68 522.81 633.66 521.65 633.64 520.49 633.61 519.33 633.57 518.17 633.53 517.01 633.48 515.85 633.43 514.69 633.37 513.52 633.30 512.36 633.23 511.20 633.15 510.04 633.06 508.88 632.96 507.72 632.85 506.56 632.73 505.39 632.60 504.23 632.46 503.07 632.31 501.91 632.16 500.75 631.99 499.59 631.82 498.43 631.64 497.27 631.45 496.10 631.26 494.94 631.07 493.78 630.88 492.62 630.68 491.46 630.49 490.30 630.30 489.14 630.12 487.97 629.94 486.81 629.77 485.65 629.62 484.49 629.48 483.33 629.35 482.17 629.24 481.01 629.15 479.85 629.08 478.68 629.02 477.52 628.99 476.36 628.98 475.20Z" fill="#b9b9b9"/>
<line x1="635.90" y1="545.58" x2="635.90" y2="649.40" stroke="#2a2a2a" stroke-width="2.0"/>
<rect x="634.00" y="648.60" width="3.8" height="1.6" rx="0.6" fill="#111"/>
<rect x="634.85" y="475.20" width="2.1" height="70.38" fill="#000"/>
<rect x="633.90" y="474.65" width="4.0" height="1.5" rx="0.7" fill="#000"/>
<path d="M677.50 475.20 677.48 476.36 677.42 477.52 677.32 478.68 677.18 479.85 677.00 481.01 676.80 482.17 676.56 483.33 676.31 484.49 676.03 485.65 675.74 486.81 675.43 487.97 675.12 489.14 674.81 490.30 674.50 491.46 674.20 492.62 673.90 493.78 673.62 494.94 673.35 496.10 673.10 497.27 672.86 498.43 672.64 499.59 672.44 500.75 672.26 501.91 672.10 503.07 671.95 504.23 671.82 505.39 671.71 506.56 671.61 507.72 671.52 508.88 671.45 510.04 671.39 511.20 671.34 512.36 671.29 513.52 671.25 514.69 671.22 515.85 671.20 517.01 671.18 518.17 671.16 519.33 671.15 520.49 671.14 521.65 671.13 522.81 671.12 523.98 671.12 525.14 671.11 526.30 671.11 527.46 671.11 528.62 671.11 529.78 671.10 530.94 671.10 532.11 671.10 533.27 671.10 534.43 671.10 535.59 671.10 536.75 671.10 537.91 671.10 539.07 671.10 540.23 671.10 541.40 671.10 542.56 671.10 543.72 671.10 544.88 671.10 546.30 671.10 547.72 671.11 549.15 671.11 550.57 671.12 551.99 671.13 553.41 671.14 554.83 671.15 556.26 671.16 557.68 671.17 559.10 671.18 560.52 671.20 561.94 671.21 563.37 671.22 564.79 671.23 566.21 671.24 567.63 671.26 569.05 671.27 570.48 671.27 571.90 671.28 573.32 671.29 574.74 671.29 576.16 671.30 577.59 671.30 579.01 671.30 580.43 671.30 581.85 671.30 583.28 671.30 584.70 671.30 586.12 671.30 587.54 671.30 588.96 671.30 590.39 671.30 591.81 671.30 593.23 671.30 594.65 671.30 596.07 671.30 597.50 671.28 598.92 671.24 600.34 671.19 601.76 671.12 603.18 671.05 604.61 670.98 606.03 670.91 607.45 670.84 608.87 670.76 610.29 670.67 611.72 670.58 613.14 670.50 614.56 667.30 614.56 667.22 613.14 667.13 611.72 667.04 610.29 666.96 608.87 666.89 607.45 666.82 606.03 666.75 604.61 666.68 603.18 666.61 601.76 666.56 600.34 666.52 598.92 666.50 597.50 666.50 596.07 666.50 594.65 666.50 593.23 666.50 591.81 666.50 590.39 666.50 588.96 666.50 587.54 666.50 586.12 666.50 584.70 666.50 583.28 666.50 581.85 666.50 580.43 666.50 579.01 666.50 577.59 666.51 576.16 666.51 574.74 666.52 573.32 666.53 571.90 666.53 570.48 666.54 569.05 666.56 567.63 666.57 566.21 666.58 564.79 666.59 563.37 666.60 561.94 666.62 560.52 666.63 559.10 666.64 557.68 666.65 556.26 666.66 554.83 666.67 553.41 666.68 551.99 666.69 550.57 666.69 549.15 666.70 547.72 666.70 546.30 666.70 544.88 666.70 543.72 666.70 542.56 666.70 541.40 666.70 540.23 666.70 539.07 666.70 537.91 666.70 536.75 666.70 535.59 666.70 534.43 666.70 533.27 666.70 532.11 666.70 530.94 666.69 529.78 666.69 528.62 666.69 527.46 666.69 526.30 666.68 525.14 666.68 523.98 666.67 522.81 666.66 521.65 666.65 520.49 666.64 519.33 666.62 518.17 666.60 517.01 666.58 515.85 666.55 514.69 666.51 513.52 666.46 512.36 666.41 511.20 666.35 510.04 666.28 508.88 666.19 507.72 666.09 506.56 665.98 505.39 665.85 504.23 665.70 503.07 665.54 501.91 665.36 500.75 665.16 499.59 664.94 498.43 664.70 497.27 664.45 496.10 664.18 494.94 663.90 493.78 663.60 492.62 663.30 491.46 662.99 490.30 662.68 489.14 662.37 487.97 662.06 486.81 661.77 485.65 661.49 484.49 661.24 483.33 661.00 482.17 660.80 481.01 660.62 479.85 660.48 478.68 660.38 477.52 660.32 476.36 660.30 475.20Z" fill="#b9b9b9"/>
<line x1="668.90" y1="533.73" x2="668.90" y2="614.56" stroke="#2a2a2a" stroke-width="2.0"/>
<rect x="667.00" y="613.76" width="3.8" height="1.6" rx="0.6" fill="#111"/>
<rect x="667.85" y="475.20" width="2.1" height="58.53" fill="#000"/>
<rect x="666.90" y="474.65" width="4.0" height="1.5" rx="0.7" fill="#000"/>
<path d="M711.00 475.20 710.98 476.36 710.93 477.52 710.84 478.68 710.71 479.85 710.56 481.01 710.37 482.17 710.16 483.33 709.93 484.49 709.67 485.65 709.40 486.81 709.11 487.97 708.82 489.14 708.52 490.30 708.22 491.46 707.92 492.62 707.62 493.78 707.33 494.94 707.05 496.10 706.78 497.27 706.52 498.43 706.28 499.59 706.06 500.75 705.84 501.91 705.65 503.07 705.47 504.23 705.31 505.39 705.16 506.56 705.03 507.72 704.91 508.88 704.81 510.04 704.72 511.20 704.64 512.36 704.57 513.52 704.51 514.69 704.45 515.85 704.41 517.01 704.37 518.17 704.34 519.33 704.31 520.49 704.29 521.65 704.27 522.81 704.25 523.98 704.23 525.14 704.22 526.30 704.20 527.46 704.19 528.62 704.18 529.78 704.17 530.94 704.16 532.11 704.15 533.27 704.14 534.43 704.13 535.59 704.13 536.75 704.12 537.91 704.11 539.07 704.11 540.23 704.11 541.40 704.10 542.56 704.10 543.72 704.10 544.88 704.10 546.30 704.10 547.72 704.11 549.15 704.11 550.57 704.12 551.99 704.13 553.41 704.13 554.83 704.14 556.26 704.15 557.68 704.16 559.10 704.16 560.52 704.17 561.94 704.18 563.37 704.19 564.79 704.19 566.21 704.20 567.63 704.20 569.05 704.20 570.48 704.20 571.90 704.20 573.32 704.19 574.74 704.19 576.16 704.18 577.59 704.17 579.01 704.16 580.43 704.15 581.85 704.14 583.28 704.13 584.70 704.12 586.12 704.11 587.54 704.10 588.96 704.09 590.39 704.08 591.81 704.07 593.23 704.06 594.65 704.05 596.07 704.03 597.50 704.02 598.92 704.00 600.34 703.99 601.76 703.96 603.18 703.94 604.61 703.90 606.03 703.87 607.45 703.82 608.87 703.74 610.29 703.61 611.72 703.45 613.14 703.30 614.56 700.50 614.56 700.35 613.14 700.19 611.72 700.06 610.29 699.98 608.87 699.93 607.45 699.90 606.03 699.86 604.61 699.84 603.18 699.81 601.76 699.80 600.34 699.78 598.92 699.77 597.50 699.75 596.07 699.74 594.65 699.73 593.23 699.72 591.81 699.71 590.39 699.70 588.96 699.69 587.54 699.68 586.12 699.67 584.70 699.66 583.28 699.65 581.85 699.64 580.43 699.63 579.01 699.62 577.59 699.61 576.16 699.61 574.74 699.60 573.32 699.60 571.90 699.60 570.48 699.60 569.05 699.60 567.63 699.61 566.21 699.61 564.79 699.62 563.37 699.63 561.94 699.64 560.52 699.64 559.10 699.65 557.68 699.66 556.26 699.67 554.83 699.67 553.41 699.68 551.99 699.69 550.57 699.69 549.15 699.70 547.72 699.70 546.30 699.70 544.88 699.70 543.72 699.70 542.56 699.69 541.40 699.69 540.23 699.69 539.07 699.68 537.91 699.67 536.75 699.67 535.59 699.66 534.43 699.65 533.27 699.64 532.11 699.63 530.94 699.62 529.78 699.61 528.62 699.60 527.46 699.58 526.30 699.57 525.14 699.55 523.98 699.53 522.81 699.51 521.65 699.49 520.49 699.46 519.33 699.43 518.17 699.39 517.01 699.35 515.85 699.29 514.69 699.23 513.52 699.16 512.36 699.08 511.20 698.99 510.04 698.89 508.88 698.77 507.72 698.64 506.56 698.49 505.39 698.33 504.23 698.15 503.07 697.96 501.91 697.74 500.75 697.52 499.59 697.28 498.43 697.02 497.27 696.75 496.10 696.47 494.94 696.18 493.78 695.88 492.62 695.58 491.46 695.28 490.30 694.98 489.14 694.69 487.97 694.40 486.81 694.13 485.65 693.87 484.49 693.64 483.33 693.43 482.17 693.24 481.01 693.09 479.85 692.96 478.68 692.87 477.52 692.82 476.36 692.80 475.20Z" fill="#b9b9b9"/>
<line x1="701.90" y1="529.90" x2="701.90" y2="597.14" stroke="#2a2a2a" stroke-width="2.0"/>
<rect x="700.00" y="596.34" width="3.8" height="1.6" rx="0.6" fill="#111"/>
<rect x="700.85" y="475.20" width="2.1" height="54.70" fill="#000"/>
<rect x="699.90" y="474.65" width="4.0" height="1.5" rx="0.7" fill="#000"/>
<circle cx="701.90" cy="614.56" r="1.15" fill="#000"/>
<path d="M747.90 475.20 747.84 476.36 747.68 477.52 747.41 478.68 747.05 479.85 746.61 481.01 746.09 482.17 745.52 483.33 744.91 484.49 744.27 485.65 743.63 486.81 742.99 487.97 742.37 489.14 741.78 490.30 741.22 491.46 740.71 492.62 740.24 493.78 739.83 494.94 739.46 496.10 739.14 497.27 738.86 498.43 738.63 499.59 738.44 500.75 738.28 501.91 738.15 503.07 738.04 504.23 737.95 505.39 737.89 506.56 737.83 507.72 737.79 508.88 737.75 510.04 737.72 511.20 737.70 512.36 737.68 513.52 737.66 514.69 737.64 515.85 737.63 517.01 737.61 518.17 737.60 519.33 737.56 520.49 737.52 521.65 737.47 522.81 737.41 523.98 737.35 525.14 737.30 526.30 737.25 527.46 737.22 528.62 737.20 529.78 737.20 530.94 737.21 532.11 737.22 533.27 737.24 534.43 737.26 535.59 737.28 536.75 737.30 537.91 737.32 539.07 737.36 540.23 737.39 541.40 737.43 542.56 737.46 543.72 737.48 544.88 737.50 546.30 737.47 547.72 737.36 549.15 737.20 550.57 737.01 551.99 736.82 553.41 736.68 554.83 736.59 556.26 736.54 557.68 736.49 559.10 736.45 560.52 736.42 561.94 736.40 563.37 736.41 564.79 736.49 566.21 736.60 567.63 736.73 569.05 736.84 570.48 736.91 571.90 736.96 573.32 737.01 574.74 737.05 576.16 737.08 577.59 737.10 579.01 737.10 580.43 737.08 581.85 737.05 583.28 737.02 584.70 736.97 586.12 736.93 587.54 736.88 588.96 736.82 590.39 736.76 591.81 736.68 593.23 736.61 594.65 736.54 596.07 736.49 597.50 736.44 598.92 736.39 600.34 736.35 601.76 736.30 603.18 736.27 604.61 736.23 606.03 736.20 607.45 736.18 608.87 736.16 610.29 736.14 611.72 736.12 613.14 736.10 614.56 733.70 614.56 733.68 613.14 733.66 611.72 733.64 610.29 733.62 608.87 733.60 607.45 733.57 606.03 733.53 604.61 733.50 603.18 733.45 601.76 733.41 600.34 733.36 598.92 733.31 597.50 733.26 596.07 733.19 594.65 733.12 593.23 733.04 591.81 732.98 590.39 732.92 588.96 732.87 587.54 732.83 586.12 732.78 584.70 732.75 583.28 732.72 581.85 732.70 580.43 732.70 579.01 732.72 577.59 732.75 576.16 732.79 574.74 732.84 573.32 732.89 571.90 732.96 570.48 733.07 569.05 733.20 567.63 733.31 566.21 733.39 564.79 733.40 563.37 733.38 561.94 733.35 560.52 733.31 559.10 733.26 557.68 733.21 556.26 733.12 554.83 732.98 553.41 732.79 551.99 732.60 550.57 732.44 549.15 732.33 547.72 732.30 546.30 732.32 544.88 732.34 543.72 732.37 542.56 732.41 541.40 732.44 540.23 732.48 539.07 732.50 537.91 732.52 536.75 732.54 535.59 732.56 534.43 732.58 533.27 732.59 532.11 732.60 530.94 732.60 529.78 732.58 528.62 732.55 527.46 732.50 526.30 732.45 525.14 732.39 523.98 732.33 522.81 732.28 521.65 732.24 520.49 732.20 519.33 732.19 518.17 732.17 517.01 732.16 515.85 732.14 514.69 732.12 513.52 732.10 512.36 732.08 511.20 732.05 510.04 732.01 508.88 731.97 507.72 731.91 506.56 731.85 505.39 731.76 504.23 731.65 503.07 731.52 501.91 731.36 500.75 731.17 499.59 730.94 498.43 730.66 497.27 730.34 496.10 729.97 494.94 729.56 493.78 729.09 492.62 728.58 491.46 728.02 490.30 727.43 489.14 726.81 487.97 726.17 486.81 725.53 485.65 724.89 484.49 724.28 483.33 723.71 482.17 723.19 481.01 722.75 479.85 722.39 478.68 722.12 477.52 721.96 476.36 721.90 475.20Z" fill="#b9b9b9"/>
<line x1="734.90" y1="512.65" x2="734.90" y2="544.88" stroke="#2a2a2a" stroke-width="2.0"/>
<rect x="733.00" y="544.08" width="3.8" height="1.6" rx="0.6" fill="#111"/>
<rect x="733.85" y="475.20" width="2.1" height="37.45" fill="#000"/>
<rect x="732.90" y="474.65" width="4.0" height="1.5" rx="0.7" fill="#000"/>
<circle cx="734.90" cy="571.36" r="1.15" fill="#000"/>
<circle cx="734.90" cy="580.07" r="1.15" fill="#000"/>
<circle cx="734.90" cy="588.43" r="1.15" fill="#000"/>
<circle cx="734.90" cy="597.31" r="1.15" fill="#000"/>
<circle cx="734.90" cy="614.56" r="1.15" fill="#000"/>
<path d="M781.90 475.20 781.84 476.36 781.67 477.52 781.40 478.68 781.02 479.85 780.56 481.01 780.02 482.17 779.42 483.33 778.78 484.49 778.11 485.65 777.42 486.81 776.74 487.97 776.07 489.14 775.43 490.30 774.82 491.46 774.25 492.62 773.73 493.78 773.26 494.94 772.84 496.10 772.48 497.27 772.16 498.43 771.88 499.59 771.65 500.75 771.45 501.91 771.29 503.07 771.16 504.23 771.05 505.39 770.96 506.56 770.89 507.72 770.83 508.88 770.79 510.04 770.75 511.20 770.72 512.36 770.69 513.52 770.67 514.69 770.65 515.85 770.63 517.01 770.62 518.17 770.60 519.33 770.57 520.49 770.52 521.65 770.47 522.81 770.41 523.98 770.35 525.14 770.30 526.30 770.25 527.46 770.22 528.62 770.20 529.78 770.20 530.94 770.21 532.11 770.22 533.27 770.24 534.43 770.26 535.59 770.28 536.75 770.30 537.91 770.32 539.07 770.36 540.23 770.39 541.40 770.43 542.56 770.46 543.72 770.48 544.88 770.50 546.30 770.47 547.72 770.36 549.15 770.20 550.57 770.01 551.99 769.82 553.41 769.68 554.83 769.59 556.26 769.54 557.68 769.49 559.10 769.45 560.52 769.42 561.94 769.40 563.37 769.41 564.79 769.49 566.21 769.60 567.63 769.73 569.05 769.84 570.48 769.91 571.90 769.96 573.32 770.01 574.74 770.05 576.16 770.08 577.59 770.10 579.01 770.10 580.43 770.08 581.85 770.05 583.28 770.02 584.70 769.97 586.12 769.93 587.54 769.88 588.96 769.82 590.39 769.76 591.81 769.68 593.23 769.61 594.65 769.54 596.07 769.49 597.50 769.44 598.92 769.39 600.34 769.35 601.76 769.30 603.18 769.27 604.61 769.23 606.03 769.20 607.45 769.18 608.87 769.16 610.29 769.14 611.72 769.12 613.14 769.10 614.56 766.70 614.56 766.68 613.14 766.66 611.72 766.64 610.29 766.62 608.87 766.60 607.45 766.57 606.03 766.53 604.61 766.50 603.18 766.45 601.76 766.41 600.34 766.36 598.92 766.31 597.50 766.26 596.07 766.19 594.65 766.12 593.23 766.04 591.81 765.98 590.39 765.92 588.96 765.87 587.54 765.83 586.12 765.78 584.70 765.75 583.28 765.72 581.85 765.70 580.43 765.70 579.01 765.72 577.59 765.75 576.16 765.79 574.74 765.84 573.32 765.89 571.90 765.96 570.48 766.07 569.05 766.20 567.63 766.31 566.21 766.39 564.79 766.40 563.37 766.38 561.94 766.35 560.52 766.31 559.10 766.26 557.68 766.21 556.26 766.12 554.83 765.98 553.41 765.79 551.99 765.60 550.57 765.44 549.15 765.33 547.72 765.30 546.30 765.32 544.88 765.34 543.72 765.37 542.56 765.41 541.40 765.44 540.23 765.48 539.07 765.50 537.91 765.52 536.75 765.54 535.59 765.56 534.43 765.58 533.27 765.59 532.11 765.60 530.94 765.60 529.78 765.58 528.62 765.55 527.46 765.50 526.30 765.45 525.14 765.39 523.98 765.33 522.81 765.28 521.65 765.23 520.49 765.20 519.33 765.18 518.17 765.17 517.01 765.15 515.85 765.13 514.69 765.11 513.52 765.08 512.36 765.05 511.20 765.01 510.04 764.97 508.88 764.91 507.72 764.84 506.56 764.75 505.39 764.64 504.23 764.51 503.07 764.35 501.91 764.15 500.75 763.92 499.59 763.64 498.43 763.32 497.27 762.96 496.10 762.54 494.94 762.07 493.78 761.55 492.62 760.98 491.46 760.37 490.30 759.73 489.14 759.06 487.97 758.38 486.81 757.69 485.65 757.02 484.49 756.38 483.33 755.78 482.17 755.24 481.01 754.78 479.85 754.40 478.68 754.13 477.52 753.96 476.36 753.90 475.20Z" fill="#b9b9b9"/>
<line x1="767.90" y1="510.74" x2="767.90" y2="544.88" stroke="#2a2a2a" stroke-width="2.0"/>
<rect x="766.00" y="544.08" width="3.8" height="1.6" rx="0.6" fill="#111"/>
<rect x="766.85" y="475.20" width="2.1" height="35.54" fill="#000"/>
<rect x="765.90" y="474.65" width="4.0" height="1.5" rx="0.7" fill="#000"/>
<circle cx="767.90" cy="571.36" r="1.15" fill="#000"/>
<circle cx="767.90" cy="580.07" r="1.15" fill="#000"/>
<circle cx="767.90" cy="588.43" r="1.15" fill="#000"/>
<circle cx="767.90" cy="597.31" r="1.15" fill="#000"/>
<circle cx="767.90" cy="614.56" r="1.15" fill="#000"/>
<text class="lt" transform="translate(-0.40,11.90) scale(1.05,1.04)">A</text>
<text class="lt" transform="translate(2.30,243.10) scale(1.00,1.04)">C</text>
<text class="lt" transform="translate(7.20,474.80) scale(1.00,1.04)">E</text>
<text class="lt" transform="translate(411.00,11.90) scale(1,1.04)">B</text>
<text class="lt" transform="translate(410.90,243.50) scale(1,1.04)">D</text>
<text class="lt" transform="translate(410.20,475.00) scale(1,1.04)">F</text>
<text class="ttl" transform="translate(233.40,689.2)" text-anchor="middle">Experiment time</text>
<text class="ttl" transform="translate(619.65,689.2)" text-anchor="middle">Experiment time</text>
</svg>
</body></html>
